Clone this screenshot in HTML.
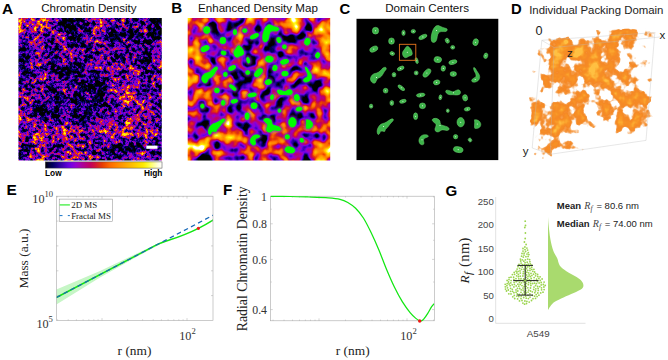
<!DOCTYPE html>
<html><head><meta charset="utf-8"><title>figure</title>
<style>html,body{margin:0;padding:0;background:#fff}svg{display:block}text{font-family:"Liberation Sans", sans-serif}.s{font-family:"Liberation Serif", serif}.b{font-weight:bold}</style>
</head><body>
<svg width="668" height="360" viewBox="0 0 668 360">
<rect width="668" height="360" fill="#fff"/>
<defs>
<filter id="fB" x="0" y="0" width="100%" height="100%" filterUnits="objectBoundingBox" color-interpolation-filters="sRGB">
<feGaussianBlur in="SourceGraphic" stdDeviation="3.00" result="low"/>
<feTurbulence type="fractalNoise" baseFrequency="0.09" numOctaves="2" seed="8" result="n"/>
<feColorMatrix in="n" type="matrix" values="1 0 0 0 0  1 0 0 0 0  1 0 0 0 0  0 0 0 0 1" result="ng"/>
<feComposite in="low" in2="ng" operator="arithmetic" k1="0" k2="1.000" k3="1.450" k4="-0.765" result="c"/>
<feGaussianBlur in="c" stdDeviation="0.50" result="cb"/>
<feComponentTransfer in="cb"><feFuncR type="table" tableValues="0.000 0.000 0.004 0.098 0.192 0.286 0.384 0.478 0.573 0.635 0.678 0.722 0.765 0.812 0.851 0.898 0.941 0.988 1.000 1.000 1.000 1.000 1.000 1.000 1.000 1.000 1.000 1.000 1.000 1.000 1.000 1.000"/><feFuncG type="table" tableValues="0.000 0.000 0.000 0.000 0.000 0.000 0.000 0.000 0.000 0.000 0.000 0.000 0.000 0.055 0.137 0.224 0.310 0.396 0.459 0.522 0.576 0.631 0.686 0.745 0.804 0.859 0.918 0.973 1.000 1.000 1.000 1.000"/><feFuncB type="table" tableValues="0.000 0.239 0.376 0.510 0.647 0.753 0.863 0.890 0.824 0.710 0.592 0.478 0.365 0.251 0.137 0.020 0.000 0.000 0.000 0.000 0.000 0.000 0.000 0.000 0.000 0.000 0.000 0.137 0.384 0.627 0.875 1.000"/><feFuncA type="linear" slope="0" intercept="1"/></feComponentTransfer>
</filter>
<filter id="fA" x="0" y="0" width="100%" height="100%" color-interpolation-filters="sRGB">
<feGaussianBlur in="SourceGraphic" stdDeviation="6" result="low"/>
<feTurbulence type="fractalNoise" baseFrequency="0.27" numOctaves="3" seed="7" result="n"/>
<feColorMatrix in="n" type="matrix" values="1 0 0 0 0  1 0 0 0 0  1 0 0 0 0  0 0 0 0 1" result="ng"/>
<feTurbulence type="fractalNoise" baseFrequency="0.065" numOctaves="2" seed="3" result="m"/>
<feColorMatrix in="m" type="matrix" values="0 1 0 0 0  0 1 0 0 0  0 1 0 0 0  0 0 0 0 1" result="mg"/>
<feComposite in="ng" in2="mg" operator="arithmetic" k1="0" k2="1.200" k3="0.700" k4="-0.460" result="c1"/>
<feComposite in="c1" in2="low" operator="arithmetic" k1="0" k2="1" k3="1.000" k4="-0.500" result="c2"/>
<feComponentTransfer in="c2"><feFuncR type="table" tableValues="0.000 0.000 0.000 0.000 0.000 0.000 0.000 0.000 0.000 0.000 0.000 0.000 0.000 0.000 0.000 0.000 0.000 0.000 0.000 0.000 0.000 0.000 0.000 0.000 0.001 0.003 0.004 0.032 0.066 0.101 0.139 0.178 0.220 0.263 0.309 0.357 0.407 0.457 0.509 0.562 0.603 0.639 0.666 0.693 0.721 0.750 0.781 0.814 0.842 0.874 0.909 0.942 0.978 0.995 1.000 1.000 1.000 1.000 1.000 1.000 1.000 1.000 1.000 1.000"/><feFuncG type="table" tableValues="0.000 0.000 0.000 0.000 0.000 0.000 0.000 0.000 0.000 0.000 0.000 0.000 0.000 0.000 0.000 0.000 0.000 0.000 0.000 0.000 0.000 0.000 0.000 0.000 0.000 0.000 0.000 0.000 0.000 0.000 0.000 0.000 0.000 0.000 0.000 0.000 0.000 0.000 0.000 0.000 0.000 0.000 0.000 0.000 0.000 0.000 0.019 0.059 0.118 0.180 0.245 0.311 0.378 0.433 0.484 0.534 0.580 0.627 0.675 0.726 0.779 0.830 0.883 0.937"/><feFuncB type="table" tableValues="0.000 0.000 0.000 0.000 0.000 0.000 0.000 0.000 0.000 0.000 0.000 0.000 0.000 0.000 0.000 0.000 0.001 0.013 0.036 0.067 0.105 0.150 0.202 0.251 0.288 0.328 0.371 0.416 0.464 0.515 0.569 0.627 0.678 0.727 0.778 0.833 0.869 0.884 0.869 0.831 0.769 0.700 0.627 0.554 0.479 0.403 0.325 0.246 0.164 0.079 0.015 0.000 0.000 0.000 0.000 0.000 0.000 0.000 0.000 0.000 0.000 0.000 0.000 0.048"/><feFuncA type="linear" slope="0" intercept="1"/></feComponentTransfer>
</filter>
<filter id="fD" x="0" y="0" width="100%" height="100%" color-interpolation-filters="sRGB">
<feGaussianBlur in="SourceGraphic" stdDeviation="2.60" result="low"/>
<feTurbulence type="fractalNoise" baseFrequency="0.085" numOctaves="3" seed="4" result="n"/>
<feColorMatrix in="n" type="matrix" values="1 0 0 0 0  1 0 0 0 0  1 0 0 0 0  0 0 0 0 1" result="ng"/>
<feComposite in="low" in2="ng" operator="arithmetic" k1="0.000" k2="0.850" k3="1.200" k4="-0.530" result="c"/>
<feComponentTransfer in="c"><feFuncR type="table" tableValues="1.000 1.000 1.000 1.000 1.000 1.000 1.000 1.000 1.000 1.000 1.000 1.000 1.000 1.000 1.000 1.000 1.000 1.000 1.000 0.999 0.993 0.988 0.982 0.975 0.968 0.964 0.963 0.963 0.962 0.961 0.962 0.964 0.965 0.967 0.968 0.970 0.972 0.973 0.976 0.979 0.982 0.985 0.987 0.990 0.992 0.995 0.997 1.000"/><feFuncG type="table" tableValues="1.000 1.000 1.000 1.000 1.000 1.000 1.000 1.000 1.000 1.000 1.000 1.000 1.000 1.000 1.000 1.000 1.000 1.000 1.000 0.989 0.932 0.875 0.809 0.728 0.647 0.602 0.586 0.569 0.552 0.536 0.538 0.543 0.548 0.553 0.559 0.564 0.569 0.578 0.593 0.608 0.624 0.639 0.654 0.673 0.693 0.713 0.733 0.753"/><feFuncB type="table" tableValues="1.000 1.000 1.000 1.000 1.000 1.000 1.000 1.000 1.000 1.000 1.000 1.000 1.000 1.000 1.000 1.000 1.000 1.000 1.000 0.979 0.875 0.771 0.648 0.495 0.342 0.260 0.233 0.206 0.179 0.153 0.149 0.149 0.149 0.149 0.149 0.149 0.149 0.151 0.158 0.165 0.172 0.179 0.186 0.199 0.214 0.229 0.244 0.259"/><feFuncA type="linear" slope="0" intercept="1"/></feComponentTransfer>
</filter>
<filter id="bl1" x="-20%" y="-20%" width="140%" height="140%"><feGaussianBlur stdDeviation="1.2"/></filter>
<filter id="bl2" x="-20%" y="-20%" width="140%" height="140%"><feGaussianBlur stdDeviation="0.6"/></filter>
<linearGradient id="cb" x1="0" x2="1" y1="0" y2="0">
<stop offset="0.0000" stop-color="#000000"/>
<stop offset="0.0323" stop-color="#00003d"/>
<stop offset="0.0645" stop-color="#010060"/>
<stop offset="0.0968" stop-color="#190082"/>
<stop offset="0.1290" stop-color="#3100a5"/>
<stop offset="0.1613" stop-color="#4900c0"/>
<stop offset="0.1935" stop-color="#6200dc"/>
<stop offset="0.2258" stop-color="#7a00e3"/>
<stop offset="0.2581" stop-color="#9200d2"/>
<stop offset="0.2903" stop-color="#a200b5"/>
<stop offset="0.3226" stop-color="#ad0097"/>
<stop offset="0.3548" stop-color="#b8007a"/>
<stop offset="0.3871" stop-color="#c3005d"/>
<stop offset="0.4194" stop-color="#cf0e40"/>
<stop offset="0.4516" stop-color="#d92323"/>
<stop offset="0.4839" stop-color="#e53905"/>
<stop offset="0.5161" stop-color="#f04f00"/>
<stop offset="0.5484" stop-color="#fc6500"/>
<stop offset="0.5806" stop-color="#ff7500"/>
<stop offset="0.6129" stop-color="#ff8500"/>
<stop offset="0.6452" stop-color="#ff9300"/>
<stop offset="0.6774" stop-color="#ffa100"/>
<stop offset="0.7097" stop-color="#ffaf00"/>
<stop offset="0.7419" stop-color="#ffbe00"/>
<stop offset="0.7742" stop-color="#ffcd00"/>
<stop offset="0.8065" stop-color="#ffdb00"/>
<stop offset="0.8387" stop-color="#ffea00"/>
<stop offset="0.8710" stop-color="#fff823"/>
<stop offset="0.9032" stop-color="#ffff62"/>
<stop offset="0.9355" stop-color="#ffffa0"/>
<stop offset="0.9677" stop-color="#ffffdf"/>
<stop offset="1.0000" stop-color="#ffffff"/>
</linearGradient>
<clipPath id="clA"><rect x="18.4" y="18" width="143.4" height="142.5"/></clipPath>
<clipPath id="clB"><rect x="187.7" y="18" width="142.5" height="142.5"/></clipPath>
<clipPath id="clE"><rect x="56.3" y="196.2" width="156.7" height="124.3"/></clipPath>
<clipPath id="clF"><rect x="270.6" y="195.2" width="163.6" height="127"/></clipPath>
<clipPath id="clD"><path d="M531 33 L663 27 L656 146 L549 161 L527 153Z"/></clipPath>
</defs>
<text transform="translate(2.1 13.9) scale(1.1 1)" class="b" font-size="14">A</text>
<text transform="translate(171.2 12.5) scale(1.08 1)" class="b" font-size="14">B</text>
<text transform="translate(339.6 13.9) scale(1.06 1)" class="b" font-size="14">C</text>
<text transform="translate(511 14) scale(1.06 1)" class="b" font-size="14">D</text>
<text x="41.2" y="11.8" font-size="11.6" fill="#111">Chromatin Density</text>
<text x="198" y="12" font-size="11.6" fill="#111">Enhanced Density Map</text>
<text x="385.2" y="12" font-size="11.6" fill="#111">Domain Centers</text>
<text x="529.2" y="13.8" font-size="11.4" fill="#222">Individual Packing Domain</text>
<g clip-path="url(#clA)"><g filter="url(#fA)">
<rect x="8.4" y="8.0" width="163.4" height="162.5" fill="#000"/>
<rect x="6.20" y="5.80" width="30.32" height="30.21" fill="#a1a1a1"/>
<rect x="36.12" y="5.80" width="18.32" height="30.21" fill="#8c8c8c"/>
<rect x="54.05" y="5.80" width="18.32" height="30.21" fill="#787878"/>
<rect x="71.98" y="5.80" width="18.32" height="30.21" fill="#787878"/>
<rect x="89.90" y="5.80" width="18.32" height="30.21" fill="#8c8c8c"/>
<rect x="107.83" y="5.80" width="18.32" height="30.21" fill="#787878"/>
<rect x="125.75" y="5.80" width="18.32" height="30.21" fill="#787878"/>
<rect x="143.68" y="5.80" width="30.32" height="30.21" fill="#616161"/>
<rect x="6.20" y="35.61" width="30.32" height="18.21" fill="#8c8c8c"/>
<rect x="36.12" y="35.61" width="18.32" height="18.21" fill="#8c8c8c"/>
<rect x="54.05" y="35.61" width="18.32" height="18.21" fill="#787878"/>
<rect x="71.98" y="35.61" width="18.32" height="18.21" fill="#787878"/>
<rect x="89.90" y="35.61" width="18.32" height="18.21" fill="#8c8c8c"/>
<rect x="107.83" y="35.61" width="18.32" height="18.21" fill="#8c8c8c"/>
<rect x="125.75" y="35.61" width="18.32" height="18.21" fill="#8c8c8c"/>
<rect x="143.68" y="35.61" width="30.32" height="18.21" fill="#8c8c8c"/>
<rect x="6.20" y="53.42" width="30.32" height="18.21" fill="#787878"/>
<rect x="36.12" y="53.42" width="18.32" height="18.21" fill="#8c8c8c"/>
<rect x="54.05" y="53.42" width="18.32" height="18.21" fill="#8c8c8c"/>
<rect x="71.98" y="53.42" width="18.32" height="18.21" fill="#787878"/>
<rect x="89.90" y="53.42" width="18.32" height="18.21" fill="#8c8c8c"/>
<rect x="107.83" y="53.42" width="18.32" height="18.21" fill="#787878"/>
<rect x="125.75" y="53.42" width="18.32" height="18.21" fill="#787878"/>
<rect x="143.68" y="53.42" width="30.32" height="18.21" fill="#8c8c8c"/>
<rect x="6.20" y="71.24" width="30.32" height="18.21" fill="#787878"/>
<rect x="36.12" y="71.24" width="18.32" height="18.21" fill="#8c8c8c"/>
<rect x="54.05" y="71.24" width="18.32" height="18.21" fill="#787878"/>
<rect x="71.98" y="71.24" width="18.32" height="18.21" fill="#616161"/>
<rect x="89.90" y="71.24" width="18.32" height="18.21" fill="#787878"/>
<rect x="107.83" y="71.24" width="18.32" height="18.21" fill="#8c8c8c"/>
<rect x="125.75" y="71.24" width="18.32" height="18.21" fill="#8c8c8c"/>
<rect x="143.68" y="71.24" width="30.32" height="18.21" fill="#8c8c8c"/>
<rect x="6.20" y="89.05" width="30.32" height="18.21" fill="#787878"/>
<rect x="36.12" y="89.05" width="18.32" height="18.21" fill="#787878"/>
<rect x="54.05" y="89.05" width="18.32" height="18.21" fill="#787878"/>
<rect x="71.98" y="89.05" width="18.32" height="18.21" fill="#787878"/>
<rect x="89.90" y="89.05" width="18.32" height="18.21" fill="#787878"/>
<rect x="107.83" y="89.05" width="18.32" height="18.21" fill="#8c8c8c"/>
<rect x="125.75" y="89.05" width="18.32" height="18.21" fill="#8c8c8c"/>
<rect x="143.68" y="89.05" width="30.32" height="18.21" fill="#787878"/>
<rect x="6.20" y="106.86" width="30.32" height="18.21" fill="#787878"/>
<rect x="36.12" y="106.86" width="18.32" height="18.21" fill="#787878"/>
<rect x="54.05" y="106.86" width="18.32" height="18.21" fill="#787878"/>
<rect x="71.98" y="106.86" width="18.32" height="18.21" fill="#616161"/>
<rect x="89.90" y="106.86" width="18.32" height="18.21" fill="#787878"/>
<rect x="107.83" y="106.86" width="18.32" height="18.21" fill="#8c8c8c"/>
<rect x="125.75" y="106.86" width="18.32" height="18.21" fill="#8c8c8c"/>
<rect x="143.68" y="106.86" width="30.32" height="18.21" fill="#8c8c8c"/>
<rect x="6.20" y="124.67" width="30.32" height="18.21" fill="#787878"/>
<rect x="36.12" y="124.67" width="18.32" height="18.21" fill="#8c8c8c"/>
<rect x="54.05" y="124.67" width="18.32" height="18.21" fill="#8c8c8c"/>
<rect x="71.98" y="124.67" width="18.32" height="18.21" fill="#787878"/>
<rect x="89.90" y="124.67" width="18.32" height="18.21" fill="#8c8c8c"/>
<rect x="107.83" y="124.67" width="18.32" height="18.21" fill="#a1a1a1"/>
<rect x="125.75" y="124.67" width="18.32" height="18.21" fill="#8c8c8c"/>
<rect x="143.68" y="124.67" width="30.32" height="18.21" fill="#787878"/>
<rect x="6.20" y="142.49" width="30.32" height="30.21" fill="#8c8c8c"/>
<rect x="36.12" y="142.49" width="18.32" height="30.21" fill="#787878"/>
<rect x="54.05" y="142.49" width="18.32" height="30.21" fill="#787878"/>
<rect x="71.98" y="142.49" width="18.32" height="30.21" fill="#787878"/>
<rect x="89.90" y="142.49" width="18.32" height="30.21" fill="#787878"/>
<rect x="107.83" y="142.49" width="18.32" height="30.21" fill="#8c8c8c"/>
<rect x="125.75" y="142.49" width="18.32" height="30.21" fill="#8c8c8c"/>
<rect x="143.68" y="142.49" width="30.32" height="30.21" fill="#787878"/>
<path d="M6 108 L40 116 L70 132 L98 172 L6 172Z" fill="#a6a6a6"/>
<circle cx="87.8" cy="45.6" r="6.0" fill="#383838"/>
<circle cx="77.0" cy="64.6" r="5.5" fill="#404040"/>
<circle cx="104.7" cy="102.6" r="8.0" fill="#333333"/>
<circle cx="121.6" cy="77.3" r="5.5" fill="#404040"/>
<circle cx="144.8" cy="60.4" r="6.0" fill="#404040"/>
<circle cx="60.4" cy="77.3" r="5.5" fill="#404040"/>
<circle cx="39.3" cy="111.0" r="6.0" fill="#404040"/>
<circle cx="28.8" cy="149.0" r="8.0" fill="#404040"/>
<circle cx="56.2" cy="157.5" r="6.0" fill="#404040"/>
<circle cx="119.5" cy="153.0" r="6.0" fill="#404040"/>
<circle cx="77.3" cy="30.9" r="6.0" fill="#404040"/>
<circle cx="153.0" cy="31.0" r="7.0" fill="#383838"/>
<circle cx="113.0" cy="31.0" r="6.0" fill="#404040"/>
<circle cx="24.5" cy="24.5" r="5.0" fill="#cccccc"/>
<circle cx="30.0" cy="30.0" r="4.0" fill="#bfbfbf"/>
<circle cx="45.6" cy="73.0" r="6.0" fill="#c7c7c7"/>
<circle cx="94.0" cy="69.0" r="5.0" fill="#bfbfbf"/>
<circle cx="119.5" cy="90.0" r="6.5" fill="#d9d9d9"/>
<circle cx="136.0" cy="77.0" r="5.0" fill="#bfbfbf"/>
<circle cx="102.6" cy="128.0" r="7.0" fill="#d9d9d9"/>
<circle cx="90.0" cy="136.0" r="5.0" fill="#cccccc"/>
<circle cx="140.6" cy="119.5" r="6.0" fill="#cccccc"/>
<circle cx="153.0" cy="136.0" r="5.0" fill="#bfbfbf"/>
<circle cx="50.0" cy="128.0" r="7.0" fill="#adadad"/>
<circle cx="26.7" cy="136.0" r="7.0" fill="#adadad"/>
<circle cx="128.0" cy="100.0" r="5.0" fill="#c7c7c7"/>
<circle cx="112.0" cy="118.0" r="5.0" fill="#c7c7c7"/>
<circle cx="150.0" cy="95.0" r="4.0" fill="#b8b8b8"/>
<circle cx="60.0" cy="42.0" r="4.0" fill="#b8b8b8"/>
</g></g>
<rect x="146.3" y="145.6" width="11.2" height="3.2" fill="#fff"/>
<rect x="45.3" y="161.9" width="116.7" height="6.2" fill="url(#cb)" stroke="#444" stroke-width="0.5"/>
<text x="45" y="176.3" class="b" font-size="8.3">Low</text>
<text x="144" y="176.3" class="b" font-size="8.3">High</text>
<g clip-path="url(#clB)"><g filter="url(#fB)">
<rect x="175.7" y="6.0" width="166.5" height="166.5" fill="#4d4d4d"/>
<rect x="175.50" y="5.80" width="19.52" height="19.52" fill="#b2b2b2"/>
<rect x="194.62" y="5.80" width="7.53" height="19.52" fill="#999999"/>
<rect x="201.75" y="5.80" width="7.53" height="19.52" fill="#4c4c4c"/>
<rect x="208.88" y="5.80" width="7.53" height="19.52" fill="#333333"/>
<rect x="216.00" y="5.80" width="7.53" height="19.52" fill="#999999"/>
<rect x="223.12" y="5.80" width="7.53" height="19.52" fill="#b2b2b2"/>
<rect x="230.25" y="5.80" width="7.53" height="19.52" fill="#1a1a1a"/>
<rect x="237.38" y="5.80" width="7.53" height="19.52" fill="#262626"/>
<rect x="244.50" y="5.80" width="7.53" height="19.52" fill="#4c4c4c"/>
<rect x="251.62" y="5.80" width="7.53" height="19.52" fill="#8c8c8c"/>
<rect x="175.50" y="24.93" width="19.52" height="7.53" fill="#bfbfbf"/>
<rect x="194.62" y="24.93" width="7.53" height="7.53" fill="#808080"/>
<rect x="201.75" y="24.93" width="7.53" height="7.53" fill="#4c4c4c"/>
<rect x="208.88" y="24.93" width="7.53" height="7.53" fill="#262626"/>
<rect x="216.00" y="24.93" width="7.53" height="7.53" fill="#4c4c4c"/>
<rect x="223.12" y="24.93" width="7.53" height="7.53" fill="#595959"/>
<rect x="230.25" y="24.93" width="7.53" height="7.53" fill="#4c4c4c"/>
<rect x="237.38" y="24.93" width="7.53" height="7.53" fill="#4c4c4c"/>
<rect x="244.50" y="24.93" width="7.53" height="7.53" fill="#4c4c4c"/>
<rect x="251.62" y="24.93" width="7.53" height="7.53" fill="#4c4c4c"/>
<rect x="175.50" y="32.05" width="19.52" height="7.53" fill="#808080"/>
<rect x="194.62" y="32.05" width="7.53" height="7.53" fill="#4c4c4c"/>
<rect x="201.75" y="32.05" width="7.53" height="7.53" fill="#1a1a1a"/>
<rect x="208.88" y="32.05" width="7.53" height="7.53" fill="#404040"/>
<rect x="216.00" y="32.05" width="7.53" height="7.53" fill="#4c4c4c"/>
<rect x="223.12" y="32.05" width="7.53" height="7.53" fill="#595959"/>
<rect x="230.25" y="32.05" width="7.53" height="7.53" fill="#4c4c4c"/>
<rect x="237.38" y="32.05" width="7.53" height="7.53" fill="#808080"/>
<rect x="244.50" y="32.05" width="7.53" height="7.53" fill="#737373"/>
<rect x="251.62" y="32.05" width="7.53" height="7.53" fill="#4c4c4c"/>
<rect x="175.50" y="39.17" width="19.52" height="7.53" fill="#666666"/>
<rect x="194.62" y="39.17" width="7.53" height="7.53" fill="#b2b2b2"/>
<rect x="201.75" y="39.17" width="7.53" height="7.53" fill="#666666"/>
<rect x="208.88" y="39.17" width="7.53" height="7.53" fill="#8c8c8c"/>
<rect x="216.00" y="39.17" width="7.53" height="7.53" fill="#4c4c4c"/>
<rect x="223.12" y="39.17" width="7.53" height="7.53" fill="#595959"/>
<rect x="230.25" y="39.17" width="7.53" height="7.53" fill="#808080"/>
<rect x="237.38" y="39.17" width="7.53" height="7.53" fill="#4c4c4c"/>
<rect x="244.50" y="39.17" width="7.53" height="7.53" fill="#333333"/>
<rect x="251.62" y="39.17" width="7.53" height="7.53" fill="#262626"/>
<rect x="175.50" y="46.30" width="19.52" height="7.53" fill="#999999"/>
<rect x="194.62" y="46.30" width="7.53" height="7.53" fill="#b2b2b2"/>
<rect x="201.75" y="46.30" width="7.53" height="7.53" fill="#4c4c4c"/>
<rect x="208.88" y="46.30" width="7.53" height="7.53" fill="#1a1a1a"/>
<rect x="216.00" y="46.30" width="7.53" height="7.53" fill="#4c4c4c"/>
<rect x="223.12" y="46.30" width="7.53" height="7.53" fill="#4c4c4c"/>
<rect x="230.25" y="46.30" width="7.53" height="7.53" fill="#4c4c4c"/>
<rect x="237.38" y="46.30" width="7.53" height="7.53" fill="#4c4c4c"/>
<rect x="244.50" y="46.30" width="7.53" height="7.53" fill="#404040"/>
<rect x="251.62" y="46.30" width="7.53" height="7.53" fill="#262626"/>
<rect x="175.50" y="53.42" width="19.52" height="7.53" fill="#b2b2b2"/>
<rect x="194.62" y="53.42" width="7.53" height="7.53" fill="#bfbfbf"/>
<rect x="201.75" y="53.42" width="7.53" height="7.53" fill="#999999"/>
<rect x="208.88" y="53.42" width="7.53" height="7.53" fill="#333333"/>
<rect x="216.00" y="53.42" width="7.53" height="7.53" fill="#4c4c4c"/>
<rect x="223.12" y="53.42" width="7.53" height="7.53" fill="#4c4c4c"/>
<rect x="230.25" y="53.42" width="7.53" height="7.53" fill="#4c4c4c"/>
<rect x="237.38" y="53.42" width="7.53" height="7.53" fill="#595959"/>
<rect x="244.50" y="53.42" width="7.53" height="7.53" fill="#4c4c4c"/>
<rect x="251.62" y="53.42" width="7.53" height="7.53" fill="#4c4c4c"/>
<rect x="175.50" y="60.55" width="19.52" height="7.53" fill="#666666"/>
<rect x="194.62" y="60.55" width="7.53" height="7.53" fill="#8c8c8c"/>
<rect x="201.75" y="60.55" width="7.53" height="7.53" fill="#999999"/>
<rect x="208.88" y="60.55" width="7.53" height="7.53" fill="#a6a6a6"/>
<rect x="216.00" y="60.55" width="7.53" height="7.53" fill="#737373"/>
<rect x="223.12" y="60.55" width="7.53" height="7.53" fill="#4c4c4c"/>
<rect x="230.25" y="60.55" width="7.53" height="7.53" fill="#4c4c4c"/>
<rect x="237.38" y="60.55" width="7.53" height="7.53" fill="#404040"/>
<rect x="244.50" y="60.55" width="7.53" height="7.53" fill="#333333"/>
<rect x="251.62" y="60.55" width="7.53" height="7.53" fill="#4c4c4c"/>
<rect x="175.50" y="67.67" width="19.52" height="7.53" fill="#b2b2b2"/>
<rect x="194.62" y="67.67" width="7.53" height="7.53" fill="#595959"/>
<rect x="201.75" y="67.67" width="7.53" height="7.53" fill="#4c4c4c"/>
<rect x="208.88" y="67.67" width="7.53" height="7.53" fill="#808080"/>
<rect x="216.00" y="67.67" width="7.53" height="7.53" fill="#737373"/>
<rect x="223.12" y="67.67" width="7.53" height="7.53" fill="#4c4c4c"/>
<rect x="230.25" y="67.67" width="7.53" height="7.53" fill="#262626"/>
<rect x="237.38" y="67.67" width="7.53" height="7.53" fill="#1a1a1a"/>
<rect x="244.50" y="67.67" width="7.53" height="7.53" fill="#4c4c4c"/>
<rect x="251.62" y="67.67" width="7.53" height="7.53" fill="#4c4c4c"/>
<rect x="175.50" y="74.80" width="19.52" height="7.53" fill="#d9d9d9"/>
<rect x="194.62" y="74.80" width="7.53" height="7.53" fill="#595959"/>
<rect x="201.75" y="74.80" width="7.53" height="7.53" fill="#4c4c4c"/>
<rect x="208.88" y="74.80" width="7.53" height="7.53" fill="#4c4c4c"/>
<rect x="216.00" y="74.80" width="7.53" height="7.53" fill="#666666"/>
<rect x="223.12" y="74.80" width="7.53" height="7.53" fill="#808080"/>
<rect x="230.25" y="74.80" width="7.53" height="7.53" fill="#333333"/>
<rect x="237.38" y="74.80" width="7.53" height="7.53" fill="#0d0d0d"/>
<rect x="244.50" y="74.80" width="7.53" height="7.53" fill="#1a1a1a"/>
<rect x="251.62" y="74.80" width="7.53" height="7.53" fill="#4c4c4c"/>
<rect x="175.50" y="81.92" width="19.52" height="7.53" fill="#b2b2b2"/>
<rect x="194.62" y="81.92" width="7.53" height="7.53" fill="#666666"/>
<rect x="201.75" y="81.92" width="7.53" height="7.53" fill="#333333"/>
<rect x="208.88" y="81.92" width="7.53" height="7.53" fill="#4c4c4c"/>
<rect x="216.00" y="81.92" width="7.53" height="7.53" fill="#262626"/>
<rect x="223.12" y="81.92" width="7.53" height="7.53" fill="#4c4c4c"/>
<rect x="230.25" y="81.92" width="7.53" height="7.53" fill="#1a1a1a"/>
<rect x="237.38" y="81.92" width="7.53" height="7.53" fill="#0d0d0d"/>
<rect x="244.50" y="81.92" width="7.53" height="7.53" fill="#262626"/>
<rect x="251.62" y="81.92" width="7.53" height="7.53" fill="#4c4c4c"/>
<rect x="258.75" y="5.80" width="9.31" height="21.31" fill="#737373"/>
<rect x="267.66" y="5.80" width="9.31" height="21.31" fill="#666666"/>
<rect x="276.56" y="5.80" width="9.31" height="21.31" fill="#808080"/>
<rect x="285.47" y="5.80" width="9.31" height="21.31" fill="#bfbfbf"/>
<rect x="294.38" y="5.80" width="9.31" height="21.31" fill="#b2b2b2"/>
<rect x="303.28" y="5.80" width="9.31" height="21.31" fill="#595959"/>
<rect x="312.19" y="5.80" width="9.31" height="21.31" fill="#666666"/>
<rect x="321.09" y="5.80" width="21.31" height="21.31" fill="#999999"/>
<rect x="258.75" y="26.71" width="9.31" height="9.31" fill="#4c4c4c"/>
<rect x="267.66" y="26.71" width="9.31" height="9.31" fill="#4c4c4c"/>
<rect x="276.56" y="26.71" width="9.31" height="9.31" fill="#666666"/>
<rect x="285.47" y="26.71" width="9.31" height="9.31" fill="#737373"/>
<rect x="294.38" y="26.71" width="9.31" height="9.31" fill="#4c4c4c"/>
<rect x="303.28" y="26.71" width="9.31" height="9.31" fill="#333333"/>
<rect x="312.19" y="26.71" width="9.31" height="9.31" fill="#b2b2b2"/>
<rect x="321.09" y="26.71" width="21.31" height="9.31" fill="#cccccc"/>
<rect x="258.75" y="35.61" width="9.31" height="9.31" fill="#4c4c4c"/>
<rect x="267.66" y="35.61" width="9.31" height="9.31" fill="#333333"/>
<rect x="276.56" y="35.61" width="9.31" height="9.31" fill="#4c4c4c"/>
<rect x="285.47" y="35.61" width="9.31" height="9.31" fill="#4c4c4c"/>
<rect x="294.38" y="35.61" width="9.31" height="9.31" fill="#4c4c4c"/>
<rect x="303.28" y="35.61" width="9.31" height="9.31" fill="#4c4c4c"/>
<rect x="312.19" y="35.61" width="9.31" height="9.31" fill="#999999"/>
<rect x="321.09" y="35.61" width="21.31" height="9.31" fill="#bfbfbf"/>
<rect x="258.75" y="44.52" width="9.31" height="9.31" fill="#4c4c4c"/>
<rect x="267.66" y="44.52" width="9.31" height="9.31" fill="#0d0d0d"/>
<rect x="276.56" y="44.52" width="9.31" height="9.31" fill="#262626"/>
<rect x="285.47" y="44.52" width="9.31" height="9.31" fill="#404040"/>
<rect x="294.38" y="44.52" width="9.31" height="9.31" fill="#595959"/>
<rect x="303.28" y="44.52" width="9.31" height="9.31" fill="#4c4c4c"/>
<rect x="312.19" y="44.52" width="9.31" height="9.31" fill="#737373"/>
<rect x="321.09" y="44.52" width="21.31" height="9.31" fill="#8c8c8c"/>
<rect x="258.75" y="53.42" width="9.31" height="9.31" fill="#737373"/>
<rect x="267.66" y="53.42" width="9.31" height="9.31" fill="#333333"/>
<rect x="276.56" y="53.42" width="9.31" height="9.31" fill="#4c4c4c"/>
<rect x="285.47" y="53.42" width="9.31" height="9.31" fill="#4c4c4c"/>
<rect x="294.38" y="53.42" width="9.31" height="9.31" fill="#262626"/>
<rect x="303.28" y="53.42" width="9.31" height="9.31" fill="#0d0d0d"/>
<rect x="312.19" y="53.42" width="9.31" height="9.31" fill="#4c4c4c"/>
<rect x="321.09" y="53.42" width="21.31" height="9.31" fill="#808080"/>
<rect x="258.75" y="62.33" width="9.31" height="9.31" fill="#737373"/>
<rect x="267.66" y="62.33" width="9.31" height="9.31" fill="#4c4c4c"/>
<rect x="276.56" y="62.33" width="9.31" height="9.31" fill="#595959"/>
<rect x="285.47" y="62.33" width="9.31" height="9.31" fill="#808080"/>
<rect x="294.38" y="62.33" width="9.31" height="9.31" fill="#4c4c4c"/>
<rect x="303.28" y="62.33" width="9.31" height="9.31" fill="#4c4c4c"/>
<rect x="312.19" y="62.33" width="9.31" height="9.31" fill="#4c4c4c"/>
<rect x="321.09" y="62.33" width="21.31" height="9.31" fill="#808080"/>
<rect x="258.75" y="71.24" width="9.31" height="9.31" fill="#8c8c8c"/>
<rect x="267.66" y="71.24" width="9.31" height="9.31" fill="#333333"/>
<rect x="276.56" y="71.24" width="9.31" height="9.31" fill="#4c4c4c"/>
<rect x="285.47" y="71.24" width="9.31" height="9.31" fill="#666666"/>
<rect x="294.38" y="71.24" width="9.31" height="9.31" fill="#4c4c4c"/>
<rect x="303.28" y="71.24" width="9.31" height="9.31" fill="#4c4c4c"/>
<rect x="312.19" y="71.24" width="9.31" height="9.31" fill="#4c4c4c"/>
<rect x="321.09" y="71.24" width="21.31" height="9.31" fill="#808080"/>
<rect x="258.75" y="80.14" width="9.31" height="9.31" fill="#666666"/>
<rect x="267.66" y="80.14" width="9.31" height="9.31" fill="#262626"/>
<rect x="276.56" y="80.14" width="9.31" height="9.31" fill="#4c4c4c"/>
<rect x="285.47" y="80.14" width="9.31" height="9.31" fill="#808080"/>
<rect x="294.38" y="80.14" width="9.31" height="9.31" fill="#4c4c4c"/>
<rect x="303.28" y="80.14" width="9.31" height="9.31" fill="#4c4c4c"/>
<rect x="312.19" y="80.14" width="9.31" height="9.31" fill="#333333"/>
<rect x="321.09" y="80.14" width="21.31" height="9.31" fill="#666666"/>
<rect x="175.50" y="89.05" width="21.31" height="9.31" fill="#333333"/>
<rect x="196.41" y="89.05" width="9.31" height="9.31" fill="#8c8c8c"/>
<rect x="205.31" y="89.05" width="9.31" height="9.31" fill="#a6a6a6"/>
<rect x="214.22" y="89.05" width="9.31" height="9.31" fill="#808080"/>
<rect x="223.12" y="89.05" width="9.31" height="9.31" fill="#4c4c4c"/>
<rect x="232.03" y="89.05" width="9.31" height="9.31" fill="#4c4c4c"/>
<rect x="240.94" y="89.05" width="9.31" height="9.31" fill="#666666"/>
<rect x="249.84" y="89.05" width="9.31" height="9.31" fill="#666666"/>
<rect x="175.50" y="97.96" width="21.31" height="9.31" fill="#a6a6a6"/>
<rect x="196.41" y="97.96" width="9.31" height="9.31" fill="#4c4c4c"/>
<rect x="205.31" y="97.96" width="9.31" height="9.31" fill="#8c8c8c"/>
<rect x="214.22" y="97.96" width="9.31" height="9.31" fill="#737373"/>
<rect x="223.12" y="97.96" width="9.31" height="9.31" fill="#4c4c4c"/>
<rect x="232.03" y="97.96" width="9.31" height="9.31" fill="#333333"/>
<rect x="240.94" y="97.96" width="9.31" height="9.31" fill="#666666"/>
<rect x="249.84" y="97.96" width="9.31" height="9.31" fill="#4c4c4c"/>
<rect x="175.50" y="106.86" width="21.31" height="9.31" fill="#4c4c4c"/>
<rect x="196.41" y="106.86" width="9.31" height="9.31" fill="#333333"/>
<rect x="205.31" y="106.86" width="9.31" height="9.31" fill="#595959"/>
<rect x="214.22" y="106.86" width="9.31" height="9.31" fill="#808080"/>
<rect x="223.12" y="106.86" width="9.31" height="9.31" fill="#333333"/>
<rect x="232.03" y="106.86" width="9.31" height="9.31" fill="#0d0d0d"/>
<rect x="240.94" y="106.86" width="9.31" height="9.31" fill="#666666"/>
<rect x="249.84" y="106.86" width="9.31" height="9.31" fill="#333333"/>
<rect x="175.50" y="115.77" width="21.31" height="9.31" fill="#595959"/>
<rect x="196.41" y="115.77" width="9.31" height="9.31" fill="#333333"/>
<rect x="205.31" y="115.77" width="9.31" height="9.31" fill="#4c4c4c"/>
<rect x="214.22" y="115.77" width="9.31" height="9.31" fill="#4c4c4c"/>
<rect x="223.12" y="115.77" width="9.31" height="9.31" fill="#a6a6a6"/>
<rect x="232.03" y="115.77" width="9.31" height="9.31" fill="#333333"/>
<rect x="240.94" y="115.77" width="9.31" height="9.31" fill="#595959"/>
<rect x="249.84" y="115.77" width="9.31" height="9.31" fill="#4c4c4c"/>
<rect x="175.50" y="124.67" width="21.31" height="9.31" fill="#1a1a1a"/>
<rect x="196.41" y="124.67" width="9.31" height="9.31" fill="#4c4c4c"/>
<rect x="205.31" y="124.67" width="9.31" height="9.31" fill="#4c4c4c"/>
<rect x="214.22" y="124.67" width="9.31" height="9.31" fill="#8c8c8c"/>
<rect x="223.12" y="124.67" width="9.31" height="9.31" fill="#b2b2b2"/>
<rect x="232.03" y="124.67" width="9.31" height="9.31" fill="#8c8c8c"/>
<rect x="240.94" y="124.67" width="9.31" height="9.31" fill="#404040"/>
<rect x="249.84" y="124.67" width="9.31" height="9.31" fill="#737373"/>
<rect x="175.50" y="133.58" width="21.31" height="9.31" fill="#bfbfbf"/>
<rect x="196.41" y="133.58" width="9.31" height="9.31" fill="#999999"/>
<rect x="205.31" y="133.58" width="9.31" height="9.31" fill="#595959"/>
<rect x="214.22" y="133.58" width="9.31" height="9.31" fill="#8c8c8c"/>
<rect x="223.12" y="133.58" width="9.31" height="9.31" fill="#737373"/>
<rect x="232.03" y="133.58" width="9.31" height="9.31" fill="#808080"/>
<rect x="240.94" y="133.58" width="9.31" height="9.31" fill="#333333"/>
<rect x="249.84" y="133.58" width="9.31" height="9.31" fill="#4c4c4c"/>
<rect x="175.50" y="142.49" width="21.31" height="9.31" fill="#e0e0e0"/>
<rect x="196.41" y="142.49" width="9.31" height="9.31" fill="#d9d9d9"/>
<rect x="205.31" y="142.49" width="9.31" height="9.31" fill="#737373"/>
<rect x="214.22" y="142.49" width="9.31" height="9.31" fill="#1a1a1a"/>
<rect x="223.12" y="142.49" width="9.31" height="9.31" fill="#333333"/>
<rect x="232.03" y="142.49" width="9.31" height="9.31" fill="#808080"/>
<rect x="240.94" y="142.49" width="9.31" height="9.31" fill="#808080"/>
<rect x="249.84" y="142.49" width="9.31" height="9.31" fill="#4c4c4c"/>
<rect x="175.50" y="151.39" width="21.31" height="21.31" fill="#808080"/>
<rect x="196.41" y="151.39" width="9.31" height="21.31" fill="#333333"/>
<rect x="205.31" y="151.39" width="9.31" height="21.31" fill="#262626"/>
<rect x="214.22" y="151.39" width="9.31" height="21.31" fill="#999999"/>
<rect x="223.12" y="151.39" width="9.31" height="21.31" fill="#a6a6a6"/>
<rect x="232.03" y="151.39" width="9.31" height="21.31" fill="#333333"/>
<rect x="240.94" y="151.39" width="9.31" height="21.31" fill="#4c4c4c"/>
<rect x="249.84" y="151.39" width="9.31" height="21.31" fill="#666666"/>
<rect x="258.75" y="89.05" width="9.31" height="9.31" fill="#1a1a1a"/>
<rect x="267.66" y="89.05" width="9.31" height="9.31" fill="#4c4c4c"/>
<rect x="276.56" y="89.05" width="9.31" height="9.31" fill="#4c4c4c"/>
<rect x="285.47" y="89.05" width="9.31" height="9.31" fill="#595959"/>
<rect x="294.38" y="89.05" width="9.31" height="9.31" fill="#4c4c4c"/>
<rect x="303.28" y="89.05" width="9.31" height="9.31" fill="#1a1a1a"/>
<rect x="312.19" y="89.05" width="9.31" height="9.31" fill="#666666"/>
<rect x="321.09" y="89.05" width="21.31" height="9.31" fill="#8c8c8c"/>
<rect x="258.75" y="97.96" width="9.31" height="9.31" fill="#595959"/>
<rect x="267.66" y="97.96" width="9.31" height="9.31" fill="#333333"/>
<rect x="276.56" y="97.96" width="9.31" height="9.31" fill="#4c4c4c"/>
<rect x="285.47" y="97.96" width="9.31" height="9.31" fill="#666666"/>
<rect x="294.38" y="97.96" width="9.31" height="9.31" fill="#4c4c4c"/>
<rect x="303.28" y="97.96" width="9.31" height="9.31" fill="#4c4c4c"/>
<rect x="312.19" y="97.96" width="9.31" height="9.31" fill="#737373"/>
<rect x="321.09" y="97.96" width="21.31" height="9.31" fill="#595959"/>
<rect x="258.75" y="106.86" width="9.31" height="9.31" fill="#808080"/>
<rect x="267.66" y="106.86" width="9.31" height="9.31" fill="#666666"/>
<rect x="276.56" y="106.86" width="9.31" height="9.31" fill="#262626"/>
<rect x="285.47" y="106.86" width="9.31" height="9.31" fill="#808080"/>
<rect x="294.38" y="106.86" width="9.31" height="9.31" fill="#4c4c4c"/>
<rect x="303.28" y="106.86" width="9.31" height="9.31" fill="#666666"/>
<rect x="312.19" y="106.86" width="9.31" height="9.31" fill="#808080"/>
<rect x="321.09" y="106.86" width="21.31" height="9.31" fill="#737373"/>
<rect x="258.75" y="115.77" width="9.31" height="9.31" fill="#737373"/>
<rect x="267.66" y="115.77" width="9.31" height="9.31" fill="#4c4c4c"/>
<rect x="276.56" y="115.77" width="9.31" height="9.31" fill="#333333"/>
<rect x="285.47" y="115.77" width="9.31" height="9.31" fill="#4c4c4c"/>
<rect x="294.38" y="115.77" width="9.31" height="9.31" fill="#333333"/>
<rect x="303.28" y="115.77" width="9.31" height="9.31" fill="#4c4c4c"/>
<rect x="312.19" y="115.77" width="9.31" height="9.31" fill="#666666"/>
<rect x="321.09" y="115.77" width="21.31" height="9.31" fill="#808080"/>
<rect x="258.75" y="124.67" width="9.31" height="9.31" fill="#808080"/>
<rect x="267.66" y="124.67" width="9.31" height="9.31" fill="#737373"/>
<rect x="276.56" y="124.67" width="9.31" height="9.31" fill="#999999"/>
<rect x="285.47" y="124.67" width="9.31" height="9.31" fill="#666666"/>
<rect x="294.38" y="124.67" width="9.31" height="9.31" fill="#808080"/>
<rect x="303.28" y="124.67" width="9.31" height="9.31" fill="#595959"/>
<rect x="312.19" y="124.67" width="9.31" height="9.31" fill="#808080"/>
<rect x="321.09" y="124.67" width="21.31" height="9.31" fill="#808080"/>
<rect x="258.75" y="133.58" width="9.31" height="9.31" fill="#333333"/>
<rect x="267.66" y="133.58" width="9.31" height="9.31" fill="#808080"/>
<rect x="276.56" y="133.58" width="9.31" height="9.31" fill="#999999"/>
<rect x="285.47" y="133.58" width="9.31" height="9.31" fill="#808080"/>
<rect x="294.38" y="133.58" width="9.31" height="9.31" fill="#4c4c4c"/>
<rect x="303.28" y="133.58" width="9.31" height="9.31" fill="#262626"/>
<rect x="312.19" y="133.58" width="9.31" height="9.31" fill="#4c4c4c"/>
<rect x="321.09" y="133.58" width="21.31" height="9.31" fill="#808080"/>
<rect x="258.75" y="142.49" width="9.31" height="9.31" fill="#1a1a1a"/>
<rect x="267.66" y="142.49" width="9.31" height="9.31" fill="#666666"/>
<rect x="276.56" y="142.49" width="9.31" height="9.31" fill="#808080"/>
<rect x="285.47" y="142.49" width="9.31" height="9.31" fill="#666666"/>
<rect x="294.38" y="142.49" width="9.31" height="9.31" fill="#4c4c4c"/>
<rect x="303.28" y="142.49" width="9.31" height="9.31" fill="#0d0d0d"/>
<rect x="312.19" y="142.49" width="9.31" height="9.31" fill="#cccccc"/>
<rect x="321.09" y="142.49" width="21.31" height="9.31" fill="#e0e0e0"/>
<rect x="258.75" y="151.39" width="9.31" height="21.31" fill="#808080"/>
<rect x="267.66" y="151.39" width="9.31" height="21.31" fill="#808080"/>
<rect x="276.56" y="151.39" width="9.31" height="21.31" fill="#4c4c4c"/>
<rect x="285.47" y="151.39" width="9.31" height="21.31" fill="#4c4c4c"/>
<rect x="294.38" y="151.39" width="9.31" height="21.31" fill="#666666"/>
<rect x="303.28" y="151.39" width="9.31" height="21.31" fill="#4c4c4c"/>
<rect x="312.19" y="151.39" width="9.31" height="21.31" fill="#b2b2b2"/>
<rect x="321.09" y="151.39" width="21.31" height="21.31" fill="#8c8c8c"/>
</g>
<g transform="translate(187.70 18.00) scale(1.0049 1.0085) translate(-356.50 -18.80)" fill="#7a14d6" stroke="#7a14d6" stroke-width="3.8" stroke-linejoin="round" filter="url(#bl1)" opacity="0.8">
<ellipse cx="375.5" cy="30.7" rx="3.2" ry="3.4" transform="rotate(0 375.5 30.7)"/>
<ellipse cx="403.5" cy="32.9" rx="1.7" ry="2.7" transform="rotate(0 403.5 32.9)"/>
<ellipse cx="413.3" cy="31.3" rx="2.2" ry="1.9" transform="rotate(0 413.3 31.3)"/>
<ellipse cx="422.9" cy="36.9" rx="4.4" ry="2.0" transform="rotate(-25 422.9 36.9)"/>
<ellipse cx="391.5" cy="41.1" rx="2.9" ry="3.2" transform="rotate(0 391.5 41.1)"/>
<ellipse cx="373.8" cy="49.1" rx="4.3" ry="2.6" transform="rotate(-25 373.8 49.1)"/>
<ellipse cx="392.2" cy="53.5" rx="2.4" ry="1.8" transform="rotate(20 392.2 53.5)"/>
<path d="M407.6 46.3 C409.5 47 412 50 412.3 53.5 C412.4 55.8 410 55.4 408.3 56.6 C406.5 58 404.5 58.2 403.3 56.3 C402 54 402.3 52 403.8 50.3 C405.2 48.8 406 46 407.6 46.3Z"/>
<ellipse cx="416.7" cy="60.7" rx="1.4" ry="3.0" transform="rotate(-15 416.7 60.7)"/>
<ellipse cx="400.7" cy="68.4" rx="3.6" ry="1.9" transform="rotate(-25 400.7 68.4)"/>
<ellipse cx="394.0" cy="74.7" rx="1.9" ry="2.2" transform="rotate(0 394.0 74.7)"/>
<ellipse cx="416.2" cy="72.9" rx="2.0" ry="2.0" transform="rotate(0 416.2 72.9)"/>
<ellipse cx="426.9" cy="73.0" rx="5.0" ry="2.7" transform="rotate(-50 426.9 73.0)"/>
<path d="M370.6 80 C370 77.5 372 74 375 73.5 C377.5 73 379.5 72 381.5 69.5 C383 67.5 385.5 66.5 386.2 68 C386.8 69.5 384.5 71 383.5 73 C382.5 75 381 77.5 378.5 78 C377 78.5 376.5 80.5 375.5 82.5 C374.5 84 371.3 83 370.6 80Z"/>
<ellipse cx="385.6" cy="90.7" rx="2.4" ry="2.4" transform="rotate(0 385.6 90.7)"/>
<ellipse cx="401.3" cy="87.8" rx="4.0" ry="1.7" transform="rotate(38 401.3 87.8)"/>
<path d="M431.8 41.5 C430.5 39 431.3 34 433 30 C434.5 26.5 437 24.5 439.5 26 C441.5 27.2 444 27.8 446.3 28.5 C448 29.2 447.3 31.5 445 31.6 C442.5 31.7 440 31 438.5 33 C437 35 437.5 38 436.3 40.5 C435.5 42.5 432.8 43.3 431.8 41.5Z"/>
<ellipse cx="447.3" cy="40.7" rx="1.9" ry="2.6" transform="rotate(-25 447.3 40.7)"/>
<ellipse cx="452.7" cy="47.3" rx="2.0" ry="1.9" transform="rotate(0 452.7 47.3)"/>
<ellipse cx="475.6" cy="42.2" rx="2.7" ry="3.5" transform="rotate(15 475.6 42.2)"/>
<ellipse cx="485.8" cy="55.8" rx="2.0" ry="2.8" transform="rotate(15 485.8 55.8)"/>
<ellipse cx="437.8" cy="59.6" rx="3.8" ry="3.0" transform="rotate(10 437.8 59.6)"/>
<ellipse cx="452.9" cy="62.2" rx="4.2" ry="2.2" transform="rotate(-15 452.9 62.2)"/>
<ellipse cx="443.3" cy="68.4" rx="2.2" ry="2.8" transform="rotate(10 443.3 68.4)"/>
<ellipse cx="453.3" cy="74.0" rx="3.2" ry="2.4" transform="rotate(0 453.3 74.0)"/>
<ellipse cx="436.7" cy="82.4" rx="3.3" ry="2.4" transform="rotate(-15 436.7 82.4)"/>
<path d="M474 67.5 C475.5 67.8 476 70 477.5 72 C479.5 74.5 480.5 77 479 79.5 C477.5 82 473.5 83 472 81.5 C470.8 80 473 78.5 475 77.5 C476.8 76.5 476 74 474.8 72 C473.8 70.3 473 67.5 474 67.5Z"/>
<path d="M446 90.5 C447.5 89.5 450 91 452.5 91.8 C454.5 92 456 90 458 89.8 C460 89.8 461 91.8 460.3 93.5 C459.5 95 456.5 95.3 454 94.8 C451.5 94.5 449 95.2 447.3 93.8 C445.8 92.8 445.3 91.3 446 90.5Z"/>
<ellipse cx="420.7" cy="95.1" rx="4.3" ry="1.9" transform="rotate(-8 420.7 95.1)"/>
<ellipse cx="391.8" cy="102.9" rx="1.9" ry="2.5" transform="rotate(0 391.8 102.9)"/>
<ellipse cx="402.9" cy="101.3" rx="3.4" ry="1.8" transform="rotate(-15 402.9 101.3)"/>
<ellipse cx="371.1" cy="106.2" rx="1.7" ry="2.1" transform="rotate(0 371.1 106.2)"/>
<ellipse cx="422.5" cy="105.8" rx="3.1" ry="2.9" transform="rotate(0 422.5 105.8)"/>
<ellipse cx="415.6" cy="116.2" rx="2.1" ry="3.4" transform="rotate(0 415.6 116.2)"/>
<path d="M377.3 133 C376.5 130.5 378 127 380 125 C381.5 123.5 384 123.5 386.5 122 C388.5 120.8 391.5 118.2 393 119 C394.3 120 392 122 390.5 123.5 C389 125 388.3 127 386.3 128.5 C384.5 129.8 385.5 132 384 131.5 C382.5 131 381 130.5 380 132.5 C379.3 134.5 378 135.5 377.3 133Z"/>
<path d="M419.3 142.5 C418.3 140 419.5 136.5 422.5 135.2 C425 134.2 428.5 134.8 428.3 136.3 C428 137.8 425 137.3 423.8 139 C422.8 140.5 424.5 142.5 423.8 144 C423 145.5 420 144.8 419.3 142.5Z"/>
<ellipse cx="440.4" cy="97.3" rx="1.5" ry="2.5" transform="rotate(10 440.4 97.3)"/>
<ellipse cx="465.1" cy="97.8" rx="2.5" ry="3.2" transform="rotate(-10 465.1 97.8)"/>
<ellipse cx="447.8" cy="110.7" rx="1.5" ry="1.8" transform="rotate(0 447.8 110.7)"/>
<ellipse cx="467.3" cy="109.1" rx="3.0" ry="1.9" transform="rotate(-12 467.3 109.1)"/>
<ellipse cx="460.7" cy="122.2" rx="3.7" ry="4.7" transform="rotate(0 460.7 122.2)"/>
<path d="M474.5 119.8 C477.5 119.3 480.8 121.5 480.8 124.5 C480.8 127.5 477.5 129 474.8 128.3 C474 127 475 124 474.5 119.8Z"/>
<path d="M432.3 119.5 C433.5 117.8 437.5 118 439.3 120 C440.8 121.8 439.5 124 441.5 125 C443.8 126 447 126 448.8 128 C450 129.5 448 131 445.5 130.3 C443.5 129.8 441.5 129.5 440 131 C438.5 132.5 435.5 132.3 435 130 C434.5 128 436.5 126.5 436 124.5 C435.5 122.8 431.5 121.3 432.3 119.5Z"/>
<ellipse cx="455.6" cy="136.7" rx="2.2" ry="2.2" transform="rotate(0 455.6 136.7)"/>
<ellipse cx="470.0" cy="140.0" rx="1.7" ry="2.0" transform="rotate(-30 470.0 140.0)"/>
<ellipse cx="458.2" cy="149.6" rx="4.9" ry="2.9" transform="rotate(10 458.2 149.6)"/>
</g>
<g transform="translate(187.70 18.00) scale(1.0049 1.0085) translate(-356.50 -18.80)" fill="#0f0" stroke="#0f0" stroke-width="0.9" filter="url(#bl2)">
<ellipse cx="375.5" cy="30.7" rx="3.2" ry="3.4" transform="rotate(0 375.5 30.7)"/>
<ellipse cx="403.5" cy="32.9" rx="1.7" ry="2.7" transform="rotate(0 403.5 32.9)"/>
<ellipse cx="413.3" cy="31.3" rx="2.2" ry="1.9" transform="rotate(0 413.3 31.3)"/>
<ellipse cx="422.9" cy="36.9" rx="4.4" ry="2.0" transform="rotate(-25 422.9 36.9)"/>
<ellipse cx="391.5" cy="41.1" rx="2.9" ry="3.2" transform="rotate(0 391.5 41.1)"/>
<ellipse cx="373.8" cy="49.1" rx="4.3" ry="2.6" transform="rotate(-25 373.8 49.1)"/>
<ellipse cx="392.2" cy="53.5" rx="2.4" ry="1.8" transform="rotate(20 392.2 53.5)"/>
<path d="M407.6 46.3 C409.5 47 412 50 412.3 53.5 C412.4 55.8 410 55.4 408.3 56.6 C406.5 58 404.5 58.2 403.3 56.3 C402 54 402.3 52 403.8 50.3 C405.2 48.8 406 46 407.6 46.3Z"/>
<ellipse cx="416.7" cy="60.7" rx="1.4" ry="3.0" transform="rotate(-15 416.7 60.7)"/>
<ellipse cx="400.7" cy="68.4" rx="3.6" ry="1.9" transform="rotate(-25 400.7 68.4)"/>
<ellipse cx="394.0" cy="74.7" rx="1.9" ry="2.2" transform="rotate(0 394.0 74.7)"/>
<ellipse cx="416.2" cy="72.9" rx="2.0" ry="2.0" transform="rotate(0 416.2 72.9)"/>
<ellipse cx="426.9" cy="73.0" rx="5.0" ry="2.7" transform="rotate(-50 426.9 73.0)"/>
<path d="M370.6 80 C370 77.5 372 74 375 73.5 C377.5 73 379.5 72 381.5 69.5 C383 67.5 385.5 66.5 386.2 68 C386.8 69.5 384.5 71 383.5 73 C382.5 75 381 77.5 378.5 78 C377 78.5 376.5 80.5 375.5 82.5 C374.5 84 371.3 83 370.6 80Z"/>
<ellipse cx="385.6" cy="90.7" rx="2.4" ry="2.4" transform="rotate(0 385.6 90.7)"/>
<ellipse cx="401.3" cy="87.8" rx="4.0" ry="1.7" transform="rotate(38 401.3 87.8)"/>
<path d="M431.8 41.5 C430.5 39 431.3 34 433 30 C434.5 26.5 437 24.5 439.5 26 C441.5 27.2 444 27.8 446.3 28.5 C448 29.2 447.3 31.5 445 31.6 C442.5 31.7 440 31 438.5 33 C437 35 437.5 38 436.3 40.5 C435.5 42.5 432.8 43.3 431.8 41.5Z"/>
<ellipse cx="447.3" cy="40.7" rx="1.9" ry="2.6" transform="rotate(-25 447.3 40.7)"/>
<ellipse cx="452.7" cy="47.3" rx="2.0" ry="1.9" transform="rotate(0 452.7 47.3)"/>
<ellipse cx="475.6" cy="42.2" rx="2.7" ry="3.5" transform="rotate(15 475.6 42.2)"/>
<ellipse cx="485.8" cy="55.8" rx="2.0" ry="2.8" transform="rotate(15 485.8 55.8)"/>
<ellipse cx="437.8" cy="59.6" rx="3.8" ry="3.0" transform="rotate(10 437.8 59.6)"/>
<ellipse cx="452.9" cy="62.2" rx="4.2" ry="2.2" transform="rotate(-15 452.9 62.2)"/>
<ellipse cx="443.3" cy="68.4" rx="2.2" ry="2.8" transform="rotate(10 443.3 68.4)"/>
<ellipse cx="453.3" cy="74.0" rx="3.2" ry="2.4" transform="rotate(0 453.3 74.0)"/>
<ellipse cx="436.7" cy="82.4" rx="3.3" ry="2.4" transform="rotate(-15 436.7 82.4)"/>
<path d="M474 67.5 C475.5 67.8 476 70 477.5 72 C479.5 74.5 480.5 77 479 79.5 C477.5 82 473.5 83 472 81.5 C470.8 80 473 78.5 475 77.5 C476.8 76.5 476 74 474.8 72 C473.8 70.3 473 67.5 474 67.5Z"/>
<path d="M446 90.5 C447.5 89.5 450 91 452.5 91.8 C454.5 92 456 90 458 89.8 C460 89.8 461 91.8 460.3 93.5 C459.5 95 456.5 95.3 454 94.8 C451.5 94.5 449 95.2 447.3 93.8 C445.8 92.8 445.3 91.3 446 90.5Z"/>
<ellipse cx="420.7" cy="95.1" rx="4.3" ry="1.9" transform="rotate(-8 420.7 95.1)"/>
<ellipse cx="391.8" cy="102.9" rx="1.9" ry="2.5" transform="rotate(0 391.8 102.9)"/>
<ellipse cx="402.9" cy="101.3" rx="3.4" ry="1.8" transform="rotate(-15 402.9 101.3)"/>
<ellipse cx="371.1" cy="106.2" rx="1.7" ry="2.1" transform="rotate(0 371.1 106.2)"/>
<ellipse cx="422.5" cy="105.8" rx="3.1" ry="2.9" transform="rotate(0 422.5 105.8)"/>
<ellipse cx="415.6" cy="116.2" rx="2.1" ry="3.4" transform="rotate(0 415.6 116.2)"/>
<path d="M377.3 133 C376.5 130.5 378 127 380 125 C381.5 123.5 384 123.5 386.5 122 C388.5 120.8 391.5 118.2 393 119 C394.3 120 392 122 390.5 123.5 C389 125 388.3 127 386.3 128.5 C384.5 129.8 385.5 132 384 131.5 C382.5 131 381 130.5 380 132.5 C379.3 134.5 378 135.5 377.3 133Z"/>
<path d="M419.3 142.5 C418.3 140 419.5 136.5 422.5 135.2 C425 134.2 428.5 134.8 428.3 136.3 C428 137.8 425 137.3 423.8 139 C422.8 140.5 424.5 142.5 423.8 144 C423 145.5 420 144.8 419.3 142.5Z"/>
<ellipse cx="440.4" cy="97.3" rx="1.5" ry="2.5" transform="rotate(10 440.4 97.3)"/>
<ellipse cx="465.1" cy="97.8" rx="2.5" ry="3.2" transform="rotate(-10 465.1 97.8)"/>
<ellipse cx="447.8" cy="110.7" rx="1.5" ry="1.8" transform="rotate(0 447.8 110.7)"/>
<ellipse cx="467.3" cy="109.1" rx="3.0" ry="1.9" transform="rotate(-12 467.3 109.1)"/>
<ellipse cx="460.7" cy="122.2" rx="3.7" ry="4.7" transform="rotate(0 460.7 122.2)"/>
<path d="M474.5 119.8 C477.5 119.3 480.8 121.5 480.8 124.5 C480.8 127.5 477.5 129 474.8 128.3 C474 127 475 124 474.5 119.8Z"/>
<path d="M432.3 119.5 C433.5 117.8 437.5 118 439.3 120 C440.8 121.8 439.5 124 441.5 125 C443.8 126 447 126 448.8 128 C450 129.5 448 131 445.5 130.3 C443.5 129.8 441.5 129.5 440 131 C438.5 132.5 435.5 132.3 435 130 C434.5 128 436.5 126.5 436 124.5 C435.5 122.8 431.5 121.3 432.3 119.5Z"/>
<ellipse cx="455.6" cy="136.7" rx="2.2" ry="2.2" transform="rotate(0 455.6 136.7)"/>
<ellipse cx="470.0" cy="140.0" rx="1.7" ry="2.0" transform="rotate(-30 470.0 140.0)"/>
<ellipse cx="458.2" cy="149.6" rx="4.9" ry="2.9" transform="rotate(10 458.2 149.6)"/>
</g></g>
<rect x="356.5" y="18.8" width="141.8" height="141.3" fill="#000"/>
<g fill="#3db54a" stroke="#6fd070" stroke-width="0.5">
<ellipse cx="375.5" cy="30.7" rx="3.2" ry="3.4" transform="rotate(0 375.5 30.7)"/>
<ellipse cx="403.5" cy="32.9" rx="1.7" ry="2.7" transform="rotate(0 403.5 32.9)"/>
<ellipse cx="413.3" cy="31.3" rx="2.2" ry="1.9" transform="rotate(0 413.3 31.3)"/>
<ellipse cx="422.9" cy="36.9" rx="4.4" ry="2.0" transform="rotate(-25 422.9 36.9)"/>
<ellipse cx="391.5" cy="41.1" rx="2.9" ry="3.2" transform="rotate(0 391.5 41.1)"/>
<ellipse cx="373.8" cy="49.1" rx="4.3" ry="2.6" transform="rotate(-25 373.8 49.1)"/>
<ellipse cx="392.2" cy="53.5" rx="2.4" ry="1.8" transform="rotate(20 392.2 53.5)"/>
<path d="M407.6 46.3 C409.5 47 412 50 412.3 53.5 C412.4 55.8 410 55.4 408.3 56.6 C406.5 58 404.5 58.2 403.3 56.3 C402 54 402.3 52 403.8 50.3 C405.2 48.8 406 46 407.6 46.3Z"/>
<ellipse cx="416.7" cy="60.7" rx="1.4" ry="3.0" transform="rotate(-15 416.7 60.7)"/>
<ellipse cx="400.7" cy="68.4" rx="3.6" ry="1.9" transform="rotate(-25 400.7 68.4)"/>
<ellipse cx="394.0" cy="74.7" rx="1.9" ry="2.2" transform="rotate(0 394.0 74.7)"/>
<ellipse cx="416.2" cy="72.9" rx="2.0" ry="2.0" transform="rotate(0 416.2 72.9)"/>
<ellipse cx="426.9" cy="73.0" rx="5.0" ry="2.7" transform="rotate(-50 426.9 73.0)"/>
<path d="M370.6 80 C370 77.5 372 74 375 73.5 C377.5 73 379.5 72 381.5 69.5 C383 67.5 385.5 66.5 386.2 68 C386.8 69.5 384.5 71 383.5 73 C382.5 75 381 77.5 378.5 78 C377 78.5 376.5 80.5 375.5 82.5 C374.5 84 371.3 83 370.6 80Z"/>
<ellipse cx="385.6" cy="90.7" rx="2.4" ry="2.4" transform="rotate(0 385.6 90.7)"/>
<ellipse cx="401.3" cy="87.8" rx="4.0" ry="1.7" transform="rotate(38 401.3 87.8)"/>
<path d="M431.8 41.5 C430.5 39 431.3 34 433 30 C434.5 26.5 437 24.5 439.5 26 C441.5 27.2 444 27.8 446.3 28.5 C448 29.2 447.3 31.5 445 31.6 C442.5 31.7 440 31 438.5 33 C437 35 437.5 38 436.3 40.5 C435.5 42.5 432.8 43.3 431.8 41.5Z"/>
<ellipse cx="447.3" cy="40.7" rx="1.9" ry="2.6" transform="rotate(-25 447.3 40.7)"/>
<ellipse cx="452.7" cy="47.3" rx="2.0" ry="1.9" transform="rotate(0 452.7 47.3)"/>
<ellipse cx="475.6" cy="42.2" rx="2.7" ry="3.5" transform="rotate(15 475.6 42.2)"/>
<ellipse cx="485.8" cy="55.8" rx="2.0" ry="2.8" transform="rotate(15 485.8 55.8)"/>
<ellipse cx="437.8" cy="59.6" rx="3.8" ry="3.0" transform="rotate(10 437.8 59.6)"/>
<ellipse cx="452.9" cy="62.2" rx="4.2" ry="2.2" transform="rotate(-15 452.9 62.2)"/>
<ellipse cx="443.3" cy="68.4" rx="2.2" ry="2.8" transform="rotate(10 443.3 68.4)"/>
<ellipse cx="453.3" cy="74.0" rx="3.2" ry="2.4" transform="rotate(0 453.3 74.0)"/>
<ellipse cx="436.7" cy="82.4" rx="3.3" ry="2.4" transform="rotate(-15 436.7 82.4)"/>
<path d="M474 67.5 C475.5 67.8 476 70 477.5 72 C479.5 74.5 480.5 77 479 79.5 C477.5 82 473.5 83 472 81.5 C470.8 80 473 78.5 475 77.5 C476.8 76.5 476 74 474.8 72 C473.8 70.3 473 67.5 474 67.5Z"/>
<path d="M446 90.5 C447.5 89.5 450 91 452.5 91.8 C454.5 92 456 90 458 89.8 C460 89.8 461 91.8 460.3 93.5 C459.5 95 456.5 95.3 454 94.8 C451.5 94.5 449 95.2 447.3 93.8 C445.8 92.8 445.3 91.3 446 90.5Z"/>
<ellipse cx="420.7" cy="95.1" rx="4.3" ry="1.9" transform="rotate(-8 420.7 95.1)"/>
<ellipse cx="391.8" cy="102.9" rx="1.9" ry="2.5" transform="rotate(0 391.8 102.9)"/>
<ellipse cx="402.9" cy="101.3" rx="3.4" ry="1.8" transform="rotate(-15 402.9 101.3)"/>
<ellipse cx="371.1" cy="106.2" rx="1.7" ry="2.1" transform="rotate(0 371.1 106.2)"/>
<ellipse cx="422.5" cy="105.8" rx="3.1" ry="2.9" transform="rotate(0 422.5 105.8)"/>
<ellipse cx="415.6" cy="116.2" rx="2.1" ry="3.4" transform="rotate(0 415.6 116.2)"/>
<path d="M377.3 133 C376.5 130.5 378 127 380 125 C381.5 123.5 384 123.5 386.5 122 C388.5 120.8 391.5 118.2 393 119 C394.3 120 392 122 390.5 123.5 C389 125 388.3 127 386.3 128.5 C384.5 129.8 385.5 132 384 131.5 C382.5 131 381 130.5 380 132.5 C379.3 134.5 378 135.5 377.3 133Z"/>
<path d="M419.3 142.5 C418.3 140 419.5 136.5 422.5 135.2 C425 134.2 428.5 134.8 428.3 136.3 C428 137.8 425 137.3 423.8 139 C422.8 140.5 424.5 142.5 423.8 144 C423 145.5 420 144.8 419.3 142.5Z"/>
<ellipse cx="440.4" cy="97.3" rx="1.5" ry="2.5" transform="rotate(10 440.4 97.3)"/>
<ellipse cx="465.1" cy="97.8" rx="2.5" ry="3.2" transform="rotate(-10 465.1 97.8)"/>
<ellipse cx="447.8" cy="110.7" rx="1.5" ry="1.8" transform="rotate(0 447.8 110.7)"/>
<ellipse cx="467.3" cy="109.1" rx="3.0" ry="1.9" transform="rotate(-12 467.3 109.1)"/>
<ellipse cx="460.7" cy="122.2" rx="3.7" ry="4.7" transform="rotate(0 460.7 122.2)"/>
<path d="M474.5 119.8 C477.5 119.3 480.8 121.5 480.8 124.5 C480.8 127.5 477.5 129 474.8 128.3 C474 127 475 124 474.5 119.8Z"/>
<path d="M432.3 119.5 C433.5 117.8 437.5 118 439.3 120 C440.8 121.8 439.5 124 441.5 125 C443.8 126 447 126 448.8 128 C450 129.5 448 131 445.5 130.3 C443.5 129.8 441.5 129.5 440 131 C438.5 132.5 435.5 132.3 435 130 C434.5 128 436.5 126.5 436 124.5 C435.5 122.8 431.5 121.3 432.3 119.5Z"/>
<ellipse cx="455.6" cy="136.7" rx="2.2" ry="2.2" transform="rotate(0 455.6 136.7)"/>
<ellipse cx="470.0" cy="140.0" rx="1.7" ry="2.0" transform="rotate(-30 470.0 140.0)"/>
<ellipse cx="458.2" cy="149.6" rx="4.9" ry="2.9" transform="rotate(10 458.2 149.6)"/>
</g>
<g fill="#fff" opacity="0.9">
<circle cx="375.5" cy="30.7" r="0.55"/>
<circle cx="403.5" cy="32.9" r="0.55"/>
<circle cx="413.3" cy="31.3" r="0.55"/>
<circle cx="422.9" cy="36.9" r="0.55"/>
<circle cx="391.5" cy="41.1" r="0.55"/>
<circle cx="373.8" cy="49.1" r="0.55"/>
<circle cx="392.2" cy="53.5" r="0.55"/>
<circle cx="407.3" cy="52.2" r="0.55"/>
<circle cx="416.7" cy="60.7" r="0.55"/>
<circle cx="400.7" cy="68.4" r="0.55"/>
<circle cx="394.0" cy="74.7" r="0.55"/>
<circle cx="416.2" cy="72.9" r="0.55"/>
<circle cx="426.9" cy="73.0" r="0.55"/>
<circle cx="376.5" cy="77.5" r="0.55"/>
<circle cx="385.6" cy="90.7" r="0.55"/>
<circle cx="401.3" cy="87.8" r="0.55"/>
<circle cx="436.5" cy="30.5" r="0.55"/>
<circle cx="447.3" cy="40.7" r="0.55"/>
<circle cx="452.7" cy="47.3" r="0.55"/>
<circle cx="475.6" cy="42.2" r="0.55"/>
<circle cx="485.8" cy="55.8" r="0.55"/>
<circle cx="437.8" cy="59.6" r="0.55"/>
<circle cx="452.9" cy="62.2" r="0.55"/>
<circle cx="443.3" cy="68.4" r="0.55"/>
<circle cx="453.3" cy="74.0" r="0.55"/>
<circle cx="436.7" cy="82.4" r="0.55"/>
<circle cx="475.2" cy="79.5" r="0.55"/>
<circle cx="453.5" cy="92.8" r="0.55"/>
<circle cx="420.7" cy="95.1" r="0.55"/>
<circle cx="391.8" cy="102.9" r="0.55"/>
<circle cx="402.9" cy="101.3" r="0.55"/>
<circle cx="371.1" cy="106.2" r="0.55"/>
<circle cx="422.5" cy="105.8" r="0.55"/>
<circle cx="415.6" cy="116.2" r="0.55"/>
<circle cx="383.5" cy="126.5" r="0.55"/>
<circle cx="422.0" cy="139.8" r="0.55"/>
<circle cx="440.4" cy="97.3" r="0.55"/>
<circle cx="465.1" cy="97.8" r="0.55"/>
<circle cx="447.8" cy="110.7" r="0.55"/>
<circle cx="467.3" cy="109.1" r="0.55"/>
<circle cx="460.7" cy="122.2" r="0.55"/>
<circle cx="477.3" cy="124.0" r="0.55"/>
<circle cx="440.0" cy="125.5" r="0.55"/>
<circle cx="455.6" cy="136.7" r="0.55"/>
<circle cx="470.0" cy="140.0" r="0.55"/>
<circle cx="458.2" cy="149.6" r="0.55"/>
</g>
<rect x="399.4" y="44.3" width="16.4" height="16" fill="none" stroke="#e8761c" stroke-width="0.9"/>
<g>
<g clip-path="url(#clD)"><g filter="url(#fD)">
<rect x="518" y="16" width="150" height="154" fill="#000"/>
<rect x="594.8" y="27.8" width="11.2" height="11.2" fill="#666666"/>
<rect x="605.6" y="27.8" width="11.2" height="11.2" fill="#999999"/>
<rect x="616.5" y="27.8" width="11.2" height="11.2" fill="#b2b2b2"/>
<rect x="627.3" y="27.8" width="11.2" height="11.2" fill="#b2b2b2"/>
<rect x="638.1" y="27.8" width="11.2" height="11.2" fill="#999999"/>
<rect x="649.0" y="27.8" width="11.2" height="11.2" fill="#333333"/>
<rect x="540.6" y="38.6" width="11.2" height="11.2" fill="#4c4c4c"/>
<rect x="551.5" y="38.6" width="11.2" height="11.2" fill="#e6e6e6"/>
<rect x="562.3" y="38.6" width="11.2" height="11.2" fill="#e6e6e6"/>
<rect x="573.1" y="38.6" width="11.2" height="11.2" fill="#cccccc"/>
<rect x="584.0" y="38.6" width="11.2" height="11.2" fill="#808080"/>
<rect x="594.8" y="38.6" width="11.2" height="11.2" fill="#cccccc"/>
<rect x="605.6" y="38.6" width="11.2" height="11.2" fill="#cccccc"/>
<rect x="616.5" y="38.6" width="11.2" height="11.2" fill="#808080"/>
<rect x="627.3" y="38.6" width="11.2" height="11.2" fill="#4c4c4c"/>
<rect x="638.1" y="38.6" width="11.2" height="11.2" fill="#4c4c4c"/>
<rect x="540.6" y="49.5" width="11.2" height="11.2" fill="#999999"/>
<rect x="551.5" y="49.5" width="11.2" height="11.2" fill="#e6e6e6"/>
<rect x="562.3" y="49.5" width="11.2" height="11.2" fill="#b2b2b2"/>
<rect x="573.1" y="49.5" width="11.2" height="11.2" fill="#e6e6e6"/>
<rect x="584.0" y="49.5" width="11.2" height="11.2" fill="#999999"/>
<rect x="594.8" y="49.5" width="11.2" height="11.2" fill="#b2b2b2"/>
<rect x="605.6" y="49.5" width="11.2" height="11.2" fill="#b2b2b2"/>
<rect x="616.5" y="49.5" width="11.2" height="11.2" fill="#333333"/>
<rect x="627.3" y="49.5" width="11.2" height="11.2" fill="#808080"/>
<rect x="638.1" y="49.5" width="11.2" height="11.2" fill="#4c4c4c"/>
<rect x="540.6" y="60.3" width="11.2" height="11.2" fill="#b2b2b2"/>
<rect x="551.5" y="60.3" width="11.2" height="11.2" fill="#cccccc"/>
<rect x="562.3" y="60.3" width="11.2" height="11.2" fill="#808080"/>
<rect x="573.1" y="60.3" width="11.2" height="11.2" fill="#b2b2b2"/>
<rect x="584.0" y="60.3" width="11.2" height="11.2" fill="#e6e6e6"/>
<rect x="594.8" y="60.3" width="11.2" height="11.2" fill="#e6e6e6"/>
<rect x="605.6" y="60.3" width="11.2" height="11.2" fill="#cccccc"/>
<rect x="616.5" y="60.3" width="11.2" height="11.2" fill="#4c4c4c"/>
<rect x="627.3" y="60.3" width="11.2" height="11.2" fill="#4c4c4c"/>
<rect x="638.1" y="60.3" width="11.2" height="11.2" fill="#1a1a1a"/>
<rect x="540.6" y="71.1" width="11.2" height="11.2" fill="#808080"/>
<rect x="551.5" y="71.1" width="11.2" height="11.2" fill="#cccccc"/>
<rect x="562.3" y="71.1" width="11.2" height="11.2" fill="#cccccc"/>
<rect x="573.1" y="71.1" width="11.2" height="11.2" fill="#999999"/>
<rect x="584.0" y="71.1" width="11.2" height="11.2" fill="#e6e6e6"/>
<rect x="594.8" y="71.1" width="11.2" height="11.2" fill="#e6e6e6"/>
<rect x="605.6" y="71.1" width="11.2" height="11.2" fill="#b2b2b2"/>
<rect x="616.5" y="71.1" width="11.2" height="11.2" fill="#808080"/>
<rect x="627.3" y="71.1" width="11.2" height="11.2" fill="#808080"/>
<rect x="638.1" y="71.1" width="11.2" height="11.2" fill="#4c4c4c"/>
<rect x="529.8" y="82.0" width="11.2" height="11.2" fill="#1a1a1a"/>
<rect x="540.6" y="82.0" width="11.2" height="11.2" fill="#666666"/>
<rect x="551.5" y="82.0" width="11.2" height="11.2" fill="#4c4c4c"/>
<rect x="562.3" y="82.0" width="11.2" height="11.2" fill="#808080"/>
<rect x="573.1" y="82.0" width="11.2" height="11.2" fill="#999999"/>
<rect x="584.0" y="82.0" width="11.2" height="11.2" fill="#808080"/>
<rect x="594.8" y="82.0" width="11.2" height="11.2" fill="#666666"/>
<rect x="605.6" y="82.0" width="11.2" height="11.2" fill="#999999"/>
<rect x="616.5" y="82.0" width="11.2" height="11.2" fill="#b2b2b2"/>
<rect x="627.3" y="82.0" width="11.2" height="11.2" fill="#cccccc"/>
<rect x="638.1" y="82.0" width="11.2" height="11.2" fill="#4c4c4c"/>
<rect x="529.8" y="92.8" width="11.2" height="11.2" fill="#4c4c4c"/>
<rect x="540.6" y="92.8" width="11.2" height="11.2" fill="#4c4c4c"/>
<rect x="551.5" y="92.8" width="11.2" height="11.2" fill="#4c4c4c"/>
<rect x="562.3" y="92.8" width="11.2" height="11.2" fill="#808080"/>
<rect x="573.1" y="92.8" width="11.2" height="11.2" fill="#999999"/>
<rect x="584.0" y="92.8" width="11.2" height="11.2" fill="#666666"/>
<rect x="594.8" y="92.8" width="11.2" height="11.2" fill="#808080"/>
<rect x="605.6" y="92.8" width="11.2" height="11.2" fill="#808080"/>
<rect x="616.5" y="92.8" width="11.2" height="11.2" fill="#b2b2b2"/>
<rect x="627.3" y="92.8" width="11.2" height="11.2" fill="#cccccc"/>
<rect x="638.1" y="92.8" width="11.2" height="11.2" fill="#999999"/>
<rect x="529.8" y="103.6" width="11.2" height="11.2" fill="#b2b2b2"/>
<rect x="540.6" y="103.6" width="11.2" height="11.2" fill="#e6e6e6"/>
<rect x="551.5" y="103.6" width="11.2" height="11.2" fill="#b2b2b2"/>
<rect x="562.3" y="103.6" width="11.2" height="11.2" fill="#cccccc"/>
<rect x="573.1" y="103.6" width="11.2" height="11.2" fill="#cccccc"/>
<rect x="584.0" y="103.6" width="11.2" height="11.2" fill="#4c4c4c"/>
<rect x="594.8" y="103.6" width="11.2" height="11.2" fill="#999999"/>
<rect x="605.6" y="103.6" width="11.2" height="11.2" fill="#808080"/>
<rect x="616.5" y="103.6" width="11.2" height="11.2" fill="#cccccc"/>
<rect x="627.3" y="103.6" width="11.2" height="11.2" fill="#999999"/>
<rect x="638.1" y="103.6" width="11.2" height="11.2" fill="#b2b2b2"/>
<rect x="529.8" y="114.5" width="11.2" height="11.2" fill="#999999"/>
<rect x="540.6" y="114.5" width="11.2" height="11.2" fill="#cccccc"/>
<rect x="551.5" y="114.5" width="11.2" height="11.2" fill="#999999"/>
<rect x="562.3" y="114.5" width="11.2" height="11.2" fill="#b2b2b2"/>
<rect x="573.1" y="114.5" width="11.2" height="11.2" fill="#999999"/>
<rect x="584.0" y="114.5" width="11.2" height="11.2" fill="#4c4c4c"/>
<rect x="594.8" y="114.5" width="11.2" height="11.2" fill="#4c4c4c"/>
<rect x="605.6" y="114.5" width="11.2" height="11.2" fill="#666666"/>
<rect x="616.5" y="114.5" width="11.2" height="11.2" fill="#cccccc"/>
<rect x="627.3" y="114.5" width="11.2" height="11.2" fill="#e6e6e6"/>
<rect x="638.1" y="114.5" width="11.2" height="11.2" fill="#999999"/>
<rect x="529.8" y="125.3" width="11.2" height="11.2" fill="#333333"/>
<rect x="540.6" y="125.3" width="11.2" height="11.2" fill="#999999"/>
<rect x="551.5" y="125.3" width="11.2" height="11.2" fill="#cccccc"/>
<rect x="562.3" y="125.3" width="11.2" height="11.2" fill="#808080"/>
<rect x="573.1" y="125.3" width="11.2" height="11.2" fill="#4c4c4c"/>
<rect x="584.0" y="125.3" width="11.2" height="11.2" fill="#1a1a1a"/>
<rect x="605.6" y="125.3" width="11.2" height="11.2" fill="#1a1a1a"/>
<rect x="616.5" y="125.3" width="11.2" height="11.2" fill="#595959"/>
<rect x="627.3" y="125.3" width="11.2" height="11.2" fill="#8c8c8c"/>
<rect x="638.1" y="125.3" width="11.2" height="11.2" fill="#333333"/>
<rect x="529.8" y="136.1" width="11.2" height="11.2" fill="#333333"/>
<rect x="540.6" y="136.1" width="11.2" height="11.2" fill="#999999"/>
<rect x="551.5" y="136.1" width="11.2" height="11.2" fill="#808080"/>
<rect x="562.3" y="136.1" width="11.2" height="11.2" fill="#4c4c4c"/>
<rect x="573.1" y="136.1" width="11.2" height="11.2" fill="#1a1a1a"/>
<rect x="529.8" y="147.0" width="11.2" height="11.2" fill="#333333"/>
<rect x="540.6" y="147.0" width="11.2" height="11.2" fill="#808080"/>
<rect x="551.5" y="147.0" width="11.2" height="11.2" fill="#4c4c4c"/>
<circle cx="629.0" cy="109.5" r="5.1" fill="#000" opacity="0.8"/>
<circle cx="571.4" cy="108.8" r="3.8" fill="#000" opacity="0.8"/>
</g></g>
<path d="M541.8 40.3 L654.8 32.6 L646 140.4 L550.3 154.3 L532.2 148 L541.8 40.3 M541.8 40.3 L554 47.5 L550.3 154.3 M554 47.5 L660 37" fill="none" stroke="#bdbdbd" stroke-width="0.45" opacity="0.8"/>
<text x="535.6" y="35.4" font-size="12.6" fill="#222">0</text>
<text x="659.4" y="39.2" font-size="11.5" fill="#222">x</text>
<text x="567" y="57.4" font-size="11.5" fill="#222">z</text>
<text x="522.8" y="155.3" font-size="11.5" fill="#222">y</text>
</g>
<g>
<g clip-path="url(#clE)">
<path d="M56.4 289.5 L100 271 L140 252 L165 240.2 L165 241.8 L140 255 L100 277.5 L56.4 304.5Z" fill="#c6f6c6"/>
<path d="M56.4 297.5 L140 253.6 L156 245.2 C162 242.2 165 241.5 170 239.8 C180 236.5 190 232.5 198.4 228.3 C203 226 208 223.3 213.5 219.8" fill="none" stroke="#12e612" stroke-width="1.5"/>
<path d="M56.4 297.5 L213.4 215.1" fill="none" stroke="#1668b8" stroke-width="1.25" stroke-dasharray="4.6 3.4"/>
</g>
<rect x="56.4" y="196.2" width="156.6" height="124.3" fill="none" stroke="#a8a8a8" stroke-width="0.6"/>
<path d="M57.6 320.5 v-1.2 M57.6 196.2 v1.2 M68.2 320.5 v-1.2 M68.2 196.2 v1.2 M76.4 320.5 v-1.2 M76.4 196.2 v1.2 M83.1 320.5 v-1.2 M83.1 196.2 v1.2 M88.8 320.5 v-1.2 M88.8 196.2 v1.2 M93.8 320.5 v-1.2 M93.8 196.2 v1.2 M98.1 320.5 v-1.2 M98.1 196.2 v1.2 M102.0 320.5 v-2.4 M102.0 196.2 v2.4 M127.6 320.5 v-1.2 M127.6 196.2 v1.2 M142.6 320.5 v-1.2 M142.6 196.2 v1.2 M153.2 320.5 v-1.2 M153.2 196.2 v1.2 M161.4 320.5 v-1.2 M161.4 196.2 v1.2 M168.1 320.5 v-1.2 M168.1 196.2 v1.2 M173.8 320.5 v-1.2 M173.8 196.2 v1.2 M178.8 320.5 v-1.2 M178.8 196.2 v1.2 M183.1 320.5 v-1.2 M183.1 196.2 v1.2 M187.0 320.5 v-2.4 M187.0 196.2 v2.4 M56.4 295.6 h2 M213.0 295.6 h-2 M56.4 270.8 h2 M213.0 270.8 h-2 M56.4 245.9 h2 M213.0 245.9 h-2 M56.4 221.1 h2 M213.0 221.1 h-2" stroke="#a8a8a8" stroke-width="0.5" fill="none"/>
<circle cx="198.4" cy="228.3" r="1.6" fill="#f01818"/>
<rect x="59.2" y="199.1" width="53.5" height="22.2" fill="#fff" stroke="#8a8a8a" stroke-width="0.5"/>
<path d="M59.6 204.9 H69.9" stroke="#4df04d" stroke-width="1.4"/>
<path d="M59.6 215.6 H62.5 M67.8 215.6 H69.9" stroke="#1874c8" stroke-width="1"/>
<text class="s" x="71.2" y="208.4" font-size="8.9" fill="#222">2D MS</text>
<text class="s" x="71.2" y="218.5" font-size="8.9" fill="#222">Fractal MS</text>
<text class="s" x="32.3" y="202.5" font-size="12.2" fill="#333">10<tspan dy="-5.6" font-size="8.6">10</tspan></text>
<text class="s" x="36.4" y="328" font-size="12.2" fill="#333">10<tspan dy="-5.6" font-size="8.6">5</tspan></text>
<text class="s" x="179.2" y="339.9" font-size="12.2" fill="#333">10<tspan dy="-5.6" font-size="8.6">2</tspan></text>
<text class="s" x="117.6" y="354.5" font-size="13.4" fill="#222">r (nm)</text>
<text class="s" transform="translate(27.6 258.5) rotate(-90)" text-anchor="middle" font-size="13.4" fill="#222">Mass (a.u.)</text>
<text transform="translate(6.4 195.2) scale(1.1 1)" class="b" font-size="14">E</text>
</g>
<g>
<rect x="270.6" y="196.2" width="163.7" height="124.6" fill="none" stroke="#a8a8a8" stroke-width="0.6"/>
<path d="M273.0 320.8 v-1.2 M273.0 196.2 v1.2 M284.0 320.8 v-1.2 M284.0 196.2 v1.2 M292.5 320.8 v-1.2 M292.5 196.2 v1.2 M299.5 320.8 v-1.2 M299.5 196.2 v1.2 M305.4 320.8 v-1.2 M305.4 196.2 v1.2 M310.5 320.8 v-1.2 M310.5 196.2 v1.2 M315.0 320.8 v-1.2 M315.0 196.2 v1.2 M319.0 320.8 v-2.4 M319.0 196.2 v2.4 M345.5 320.8 v-1.2 M345.5 196.2 v1.2 M361.0 320.8 v-1.2 M361.0 196.2 v1.2 M372.0 320.8 v-1.2 M372.0 196.2 v1.2 M380.5 320.8 v-1.2 M380.5 196.2 v1.2 M387.5 320.8 v-1.2 M387.5 196.2 v1.2 M393.4 320.8 v-1.2 M393.4 196.2 v1.2 M398.5 320.8 v-1.2 M398.5 196.2 v1.2 M403.0 320.8 v-1.2 M403.0 196.2 v1.2 M407.0 320.8 v-2.4 M407.0 196.2 v2.4 M433.5 320.8 v-1.2 M433.5 196.2 v1.2 M270.6 209.2 h1.2 M434.3 209.2 h-1.2 M270.6 223.8 h2.2 M434.3 223.8 h-2.2 M270.6 240.3 h1.2 M434.3 240.3 h-1.2 M270.6 259.4 h2.2 M434.3 259.4 h-2.2 M270.6 282.0 h1.2 M434.3 282.0 h-1.2 M270.6 309.6 h2.2 M434.3 309.6 h-2.2" stroke="#a8a8a8" stroke-width="0.5" fill="none"/>
<path d="M270.6 196.3 C273.8 196.3 283.6 196.4 290.0 196.5 C296.4 196.6 302.5 196.8 308.9 197.0 C315.3 197.2 323.2 197.4 328.4 197.8 C333.6 198.2 336.8 198.5 340.0 199.3 C343.2 200.1 345.2 201.0 347.8 202.5 C350.4 204.0 353.0 205.7 355.6 208.3 C358.2 210.9 360.8 213.9 363.4 218.0 C366.0 222.1 368.6 227.4 371.2 232.8 C373.8 238.2 376.4 244.1 379.0 250.3 C381.6 256.5 384.1 263.6 386.7 269.8 C389.3 276.0 391.9 282.0 394.5 287.3 C397.1 292.6 399.7 297.5 402.3 301.7 C404.9 305.9 407.8 309.8 410.1 312.6 C412.4 315.4 414.3 317.0 415.9 318.4 C417.5 319.8 418.9 320.6 419.8 321.0 C420.7 321.4 420.9 321.1 421.5 320.8 C422.1 320.5 422.7 320.4 423.7 319.2 C424.7 318.0 426.3 315.8 427.6 313.7 C428.9 311.6 430.4 308.6 431.5 306.9 C432.6 305.2 433.8 304.2 434.3 303.6" fill="none" stroke="#12e612" stroke-width="1.25" clip-path="url(#clF)"/>
<circle cx="419.7" cy="321" r="1.7" fill="#f01818"/>
<text class="s" x="267" y="200.7" text-anchor="end" font-size="11.8" fill="#333">1</text>
<text class="s" x="267" y="228.3" text-anchor="end" font-size="11.8" fill="#333">0.8</text>
<text class="s" x="267" y="263.6" text-anchor="end" font-size="11.8" fill="#333">0.6</text>
<text class="s" x="267" y="313.6" text-anchor="end" font-size="11.8" fill="#333">0.4</text>
<text class="s" x="400.2" y="339.9" font-size="12.2" fill="#333">10<tspan dy="-5.6" font-size="8.6">2</tspan></text>
<text class="s" x="335.8" y="355" font-size="13.4" fill="#222">r (nm)</text>
<text class="s" transform="translate(247.4 258.8) rotate(-90)" text-anchor="middle" font-size="13.8" fill="#222">Radial Chromatin Density</text>
<text transform="translate(223 195.4) scale(1.08 1)" class="b" font-size="14">F</text>
</g>
<g>
<path d="M495.7 197 V323.3 H585.5" fill="none" stroke="#d9d9d9" stroke-width="0.8"/>
<text x="493.8" y="322.4" text-anchor="end" font-size="9.6" fill="#444">0</text>
<text x="493.8" y="298.9" text-anchor="end" font-size="9.6" fill="#444">50</text>
<text x="493.8" y="275.4" text-anchor="end" font-size="9.6" fill="#444">100</text>
<text x="493.8" y="251.9" text-anchor="end" font-size="9.6" fill="#444">150</text>
<text x="493.8" y="228.4" text-anchor="end" font-size="9.6" fill="#444">200</text>
<text x="493.8" y="204.9" text-anchor="end" font-size="9.6" fill="#444">250</text>
<text x="538.2" y="336.9" text-anchor="middle" font-size="9.8" fill="#444">A549</text>
<path d="M548.0 217.0 C548.1 218.3 548.2 221.3 548.6 225.0 C549.0 228.7 549.6 234.9 550.4 239.2 C551.2 243.5 552.2 247.7 553.3 250.8 C554.4 254.0 556.0 255.7 557.1 258.1 C558.2 260.5 558.2 263.2 559.7 265.4 C561.2 267.6 563.6 269.2 566.4 271.2 C569.2 273.1 574.0 275.4 576.6 277.1 C579.2 278.8 580.8 280.0 581.9 281.4 C583.0 282.8 583.4 284.0 583.4 285.2 C583.4 286.4 583.5 287.4 581.9 288.7 C580.3 290.0 576.8 291.6 573.7 293.1 C570.6 294.6 566.6 296.1 563.5 297.5 C560.4 298.9 557.0 300.4 554.8 301.8 C552.6 303.2 551.5 304.8 550.4 306.2 C549.3 307.6 548.4 309.4 548.0 310.0Z" fill="#a9da6e"/>
<g fill="#9bd44e"><circle cx="525.2" cy="221.2" r="0.90"/><circle cx="525.5" cy="225.5" r="0.90"/><circle cx="524.8" cy="227.5" r="0.90"/><circle cx="525.4" cy="233.0" r="0.90"/><circle cx="525.2" cy="238.5" r="0.90"/><circle cx="524.4" cy="242.0" r="0.90"/><circle cx="526.1" cy="244.5" r="0.90"/><circle cx="524.9" cy="247.0" r="0.90"/><circle cx="534.6" cy="283.2" r="0.90"/><circle cx="540.7" cy="292.9" r="0.90"/><circle cx="541.6" cy="289.8" r="0.90"/><circle cx="525.0" cy="249.6" r="0.90"/><circle cx="526.9" cy="301.3" r="0.90"/><circle cx="517.6" cy="298.9" r="0.90"/><circle cx="518.4" cy="274.5" r="0.90"/><circle cx="527.7" cy="278.7" r="0.90"/><circle cx="530.3" cy="263.8" r="0.90"/><circle cx="512.6" cy="291.3" r="0.90"/><circle cx="510.8" cy="282.9" r="0.90"/><circle cx="526.9" cy="248.1" r="0.90"/><circle cx="522.3" cy="259.8" r="0.90"/><circle cx="526.5" cy="303.5" r="0.90"/><circle cx="531.2" cy="278.5" r="0.90"/><circle cx="529.6" cy="259.6" r="0.90"/><circle cx="543.9" cy="287.0" r="0.90"/><circle cx="521.0" cy="298.5" r="0.90"/><circle cx="519.6" cy="268.4" r="0.90"/><circle cx="521.6" cy="256.2" r="0.90"/><circle cx="526.5" cy="265.0" r="0.90"/><circle cx="522.3" cy="267.1" r="0.90"/><circle cx="524.6" cy="294.2" r="0.90"/><circle cx="507.5" cy="287.8" r="0.90"/><circle cx="522.9" cy="303.1" r="0.90"/><circle cx="538.3" cy="290.4" r="0.90"/><circle cx="526.5" cy="268.7" r="0.90"/><circle cx="523.0" cy="248.5" r="0.90"/><circle cx="527.7" cy="259.1" r="0.90"/><circle cx="531.5" cy="300.5" r="0.90"/><circle cx="534.1" cy="277.6" r="0.90"/><circle cx="527.0" cy="254.1" r="0.90"/><circle cx="537.8" cy="293.0" r="0.90"/><circle cx="527.6" cy="250.1" r="0.90"/><circle cx="524.1" cy="253.2" r="0.90"/><circle cx="541.2" cy="282.5" r="0.90"/><circle cx="531.7" cy="267.2" r="0.90"/><circle cx="518.8" cy="278.8" r="0.90"/><circle cx="520.8" cy="265.9" r="0.90"/><circle cx="520.0" cy="270.9" r="0.90"/><circle cx="537.4" cy="281.6" r="0.90"/><circle cx="523.2" cy="273.7" r="0.90"/><circle cx="514.3" cy="295.4" r="0.90"/><circle cx="536.5" cy="283.6" r="0.90"/><circle cx="528.1" cy="256.4" r="0.90"/><circle cx="524.6" cy="264.7" r="0.90"/><circle cx="531.9" cy="275.6" r="0.90"/><circle cx="533.9" cy="269.3" r="0.90"/><circle cx="520.3" cy="276.2" r="0.90"/><circle cx="530.0" cy="268.4" r="0.90"/><circle cx="532.3" cy="291.8" r="0.90"/><circle cx="535.6" cy="285.5" r="0.90"/><circle cx="528.4" cy="284.7" r="0.90"/><circle cx="527.2" cy="262.2" r="0.90"/><circle cx="533.5" cy="274.2" r="0.90"/><circle cx="530.0" cy="297.1" r="0.90"/><circle cx="526.1" cy="277.3" r="0.90"/><circle cx="524.9" cy="301.0" r="0.90"/><circle cx="534.0" cy="287.1" r="0.90"/><circle cx="512.3" cy="289.3" r="0.90"/><circle cx="528.1" cy="292.1" r="0.90"/><circle cx="522.0" cy="285.6" r="0.90"/><circle cx="528.7" cy="272.9" r="0.90"/><circle cx="507.2" cy="283.6" r="0.90"/><circle cx="523.0" cy="251.1" r="0.90"/><circle cx="528.7" cy="282.6" r="0.90"/><circle cx="517.1" cy="269.1" r="0.90"/><circle cx="522.6" cy="294.2" r="0.90"/><circle cx="529.9" cy="293.9" r="0.90"/><circle cx="529.2" cy="302.1" r="0.90"/><circle cx="519.5" cy="282.4" r="0.90"/><circle cx="514.7" cy="298.5" r="0.90"/><circle cx="524.0" cy="269.2" r="0.90"/><circle cx="516.2" cy="281.7" r="0.90"/><circle cx="520.3" cy="273.1" r="0.90"/><circle cx="516.1" cy="292.2" r="0.90"/><circle cx="521.1" cy="263.1" r="0.90"/><circle cx="524.2" cy="282.4" r="0.90"/><circle cx="517.8" cy="291.0" r="0.90"/><circle cx="528.7" cy="290.1" r="0.90"/><circle cx="535.7" cy="273.7" r="0.90"/><circle cx="526.2" cy="298.2" r="0.90"/><circle cx="526.9" cy="272.2" r="0.90"/><circle cx="530.5" cy="288.0" r="0.90"/><circle cx="516.8" cy="296.1" r="0.90"/><circle cx="526.6" cy="275.0" r="0.90"/><circle cx="525.9" cy="256.7" r="0.90"/><circle cx="511.0" cy="293.9" r="0.90"/><circle cx="543.3" cy="284.5" r="0.90"/><circle cx="510.6" cy="288.3" r="0.90"/><circle cx="534.0" cy="280.5" r="0.90"/><circle cx="537.8" cy="276.6" r="0.90"/><circle cx="513.6" cy="277.2" r="0.90"/><circle cx="523.8" cy="261.2" r="0.90"/><circle cx="529.4" cy="266.3" r="0.90"/><circle cx="525.7" cy="296.1" r="0.90"/><circle cx="521.2" cy="289.8" r="0.90"/><circle cx="522.0" cy="253.5" r="0.90"/><circle cx="506.5" cy="291.0" r="0.90"/><circle cx="514.6" cy="274.3" r="0.90"/><circle cx="523.3" cy="257.1" r="0.90"/><circle cx="520.7" cy="261.0" r="0.90"/><circle cx="533.7" cy="289.4" r="0.90"/><circle cx="516.1" cy="271.2" r="0.90"/><circle cx="542.1" cy="279.0" r="0.90"/><circle cx="519.5" cy="300.9" r="0.90"/><circle cx="519.2" cy="294.3" r="0.90"/><circle cx="528.4" cy="298.6" r="0.90"/><circle cx="537.1" cy="296.6" r="0.90"/><circle cx="518.0" cy="266.7" r="0.90"/><circle cx="523.0" cy="288.1" r="0.90"/><circle cx="539.7" cy="286.6" r="0.90"/><circle cx="526.1" cy="286.4" r="0.90"/><circle cx="517.5" cy="288.4" r="0.90"/><circle cx="522.0" cy="300.5" r="0.90"/><circle cx="525.4" cy="259.8" r="0.90"/><circle cx="541.2" cy="284.9" r="0.90"/><circle cx="525.6" cy="251.5" r="0.90"/><circle cx="530.7" cy="281.6" r="0.90"/><circle cx="538.9" cy="295.2" r="0.90"/><circle cx="521.0" cy="278.7" r="0.90"/><circle cx="508.8" cy="293.8" r="0.90"/><circle cx="511.0" cy="277.2" r="0.90"/><circle cx="532.8" cy="271.3" r="0.90"/><circle cx="510.1" cy="285.7" r="0.90"/><circle cx="533.0" cy="298.7" r="0.90"/><circle cx="520.2" cy="284.4" r="0.90"/><circle cx="531.0" cy="273.4" r="0.90"/><circle cx="536.6" cy="279.2" r="0.90"/><circle cx="516.0" cy="289.9" r="0.90"/><circle cx="523.7" cy="297.5" r="0.90"/><circle cx="525.8" cy="290.8" r="0.90"/><circle cx="512.2" cy="284.8" r="0.90"/><circle cx="540.2" cy="280.4" r="0.90"/><circle cx="530.7" cy="283.6" r="0.90"/><circle cx="525.2" cy="280.4" r="0.90"/><circle cx="528.2" cy="264.1" r="0.90"/><circle cx="539.1" cy="283.0" r="0.90"/><circle cx="523.4" cy="271.7" r="0.90"/><circle cx="505.5" cy="289.1" r="0.90"/><circle cx="518.8" cy="286.2" r="0.90"/><circle cx="534.8" cy="292.7" r="0.90"/><circle cx="514.4" cy="284.4" r="0.90"/><circle cx="510.6" cy="291.3" r="0.90"/><circle cx="513.9" cy="286.9" r="0.90"/><circle cx="519.0" cy="264.3" r="0.90"/><circle cx="516.9" cy="273.0" r="0.90"/><circle cx="521.6" cy="282.8" r="0.90"/><circle cx="534.6" cy="296.2" r="0.90"/><circle cx="532.4" cy="295.3" r="0.90"/><circle cx="532.7" cy="283.5" r="0.90"/><circle cx="530.2" cy="276.5" r="0.90"/><circle cx="535.8" cy="288.8" r="0.90"/><circle cx="516.6" cy="275.8" r="0.90"/><circle cx="528.0" cy="295.3" r="0.90"/><circle cx="524.1" cy="286.5" r="0.90"/><circle cx="522.9" cy="276.0" r="0.90"/><circle cx="511.1" cy="280.6" r="0.90"/><circle cx="517.9" cy="280.8" r="0.90"/><circle cx="530.9" cy="285.5" r="0.90"/><circle cx="544.1" cy="282.1" r="0.90"/><circle cx="513.9" cy="279.4" r="0.90"/><circle cx="525.1" cy="262.7" r="0.90"/><circle cx="537.6" cy="274.5" r="0.90"/><circle cx="516.2" cy="285.9" r="0.90"/><circle cx="543.0" cy="292.2" r="0.90"/><circle cx="507.1" cy="280.4" r="0.90"/><circle cx="512.4" cy="274.6" r="0.90"/><circle cx="527.8" cy="287.8" r="0.90"/><circle cx="528.3" cy="252.6" r="0.90"/><circle cx="516.0" cy="278.6" r="0.90"/><circle cx="537.6" cy="286.5" r="0.90"/><circle cx="518.1" cy="271.3" r="0.90"/><circle cx="517.9" cy="284.2" r="0.90"/><circle cx="509.0" cy="279.6" r="0.90"/><circle cx="530.0" cy="270.4" r="0.90"/><circle cx="530.5" cy="291.0" r="0.90"/><circle cx="521.0" cy="292.3" r="0.90"/><circle cx="518.8" cy="296.6" r="0.90"/><circle cx="527.7" cy="280.7" r="0.90"/><circle cx="514.1" cy="282.3" r="0.90"/><circle cx="535.5" cy="298.4" r="0.90"/><circle cx="529.9" cy="261.7" r="0.90"/><circle cx="524.6" cy="304.2" r="0.90"/><circle cx="544.1" cy="289.6" r="0.90"/><circle cx="538.9" cy="278.5" r="0.90"/><circle cx="523.1" cy="290.1" r="0.90"/><circle cx="523.7" cy="278.9" r="0.90"/><circle cx="508.5" cy="282.0" r="0.90"/><circle cx="521.6" cy="269.3" r="0.90"/><circle cx="519.7" cy="288.5" r="0.90"/><circle cx="526.5" cy="283.4" r="0.90"/><circle cx="512.8" cy="296.8" r="0.90"/><circle cx="508.3" cy="290.0" r="0.90"/><circle cx="506.9" cy="285.7" r="0.90"/><circle cx="520.4" cy="259.1" r="0.90"/><circle cx="540.1" cy="276.8" r="0.90"/><circle cx="536.2" cy="294.6" r="0.90"/><circle cx="518.4" cy="276.7" r="0.90"/><circle cx="525.5" cy="266.9" r="0.90"/><circle cx="529.1" cy="274.9" r="0.90"/><circle cx="538.1" cy="288.4" r="0.90"/><circle cx="528.9" cy="254.6" r="0.90"/><circle cx="513.9" cy="292.7" r="0.90"/><circle cx="524.0" cy="255.1" r="0.90"/><circle cx="517.2" cy="294.0" r="0.90"/><circle cx="525.6" cy="288.7" r="0.90"/><circle cx="521.2" cy="296.1" r="0.90"/><circle cx="524.8" cy="284.5" r="0.90"/><circle cx="522.7" cy="280.7" r="0.90"/><circle cx="535.6" cy="275.8" r="0.90"/><circle cx="524.2" cy="292.0" r="0.90"/><circle cx="541.5" cy="287.8" r="0.90"/><circle cx="534.6" cy="272.0" r="0.90"/><circle cx="535.5" cy="290.9" r="0.90"/><circle cx="522.5" cy="264.7" r="0.90"/><circle cx="505.2" cy="284.3" r="0.90"/><circle cx="527.7" cy="270.3" r="0.90"/><circle cx="528.0" cy="276.6" r="0.90"/><circle cx="531.7" cy="265.2" r="0.90"/><circle cx="525.3" cy="270.8" r="0.90"/><circle cx="526.2" cy="292.9" r="0.90"/><circle cx="505.3" cy="286.8" r="0.90"/><circle cx="527.6" cy="266.9" r="0.90"/><circle cx="525.3" cy="273.4" r="0.90"/><circle cx="545.2" cy="285.4" r="0.90"/><circle cx="509.1" cy="284.0" r="0.90"/><circle cx="520.2" cy="280.5" r="0.90"/><circle cx="529.4" cy="279.8" r="0.90"/><circle cx="509.1" cy="277.6" r="0.90"/><circle cx="531.8" cy="269.4" r="0.90"/><circle cx="514.2" cy="272.4" r="0.90"/></g>
<path d="M525.2 265.4 V295.1 M517.4 265.4 H533 M513.2 280.6 H538.6 M517.4 295.1 H533" stroke="#222" stroke-width="1" fill="none"/>
<circle cx="525.2" cy="280.6" r="1.5" fill="#9bd44e" stroke="#333" stroke-width="0.5"/>
<text class="s" transform="translate(468.7 283.6) rotate(-90)" font-size="14.6" fill="#222"><tspan font-style="italic" font-size="13.4">R</tspan><tspan font-style="italic" font-size="10.6" dy="2.8" dx="0.3">f</tspan><tspan dy="-2.8" dx="1.2" letter-spacing="0.35"> (nm)</tspan></text>
<text x="556.8" y="208.8" font-size="9.5" fill="#222"><tspan class="b">Mean </tspan><tspan class="s" font-style="italic" font-size="10" fill="#444" dx="0.6">R</tspan><tspan class="s" font-style="italic" font-size="7.6" dy="2.2" fill="#444">f</tspan><tspan dy="-2.2" dx="1.2"> = 80.6 nm</tspan></text>
<text x="556.8" y="226.9" font-size="9.5" fill="#222"><tspan class="b">Median </tspan><tspan class="s" font-style="italic" font-size="10" fill="#444" dx="0.6">R</tspan><tspan class="s" font-style="italic" font-size="7.6" dy="2.2" fill="#444">f</tspan><tspan dy="-2.2" dx="1.2"> = 74.00 nm</tspan></text>
<text transform="translate(445.6 195.5) scale(1.08 1)" class="b" font-size="14">G</text>
</g>
</svg></body></html>
